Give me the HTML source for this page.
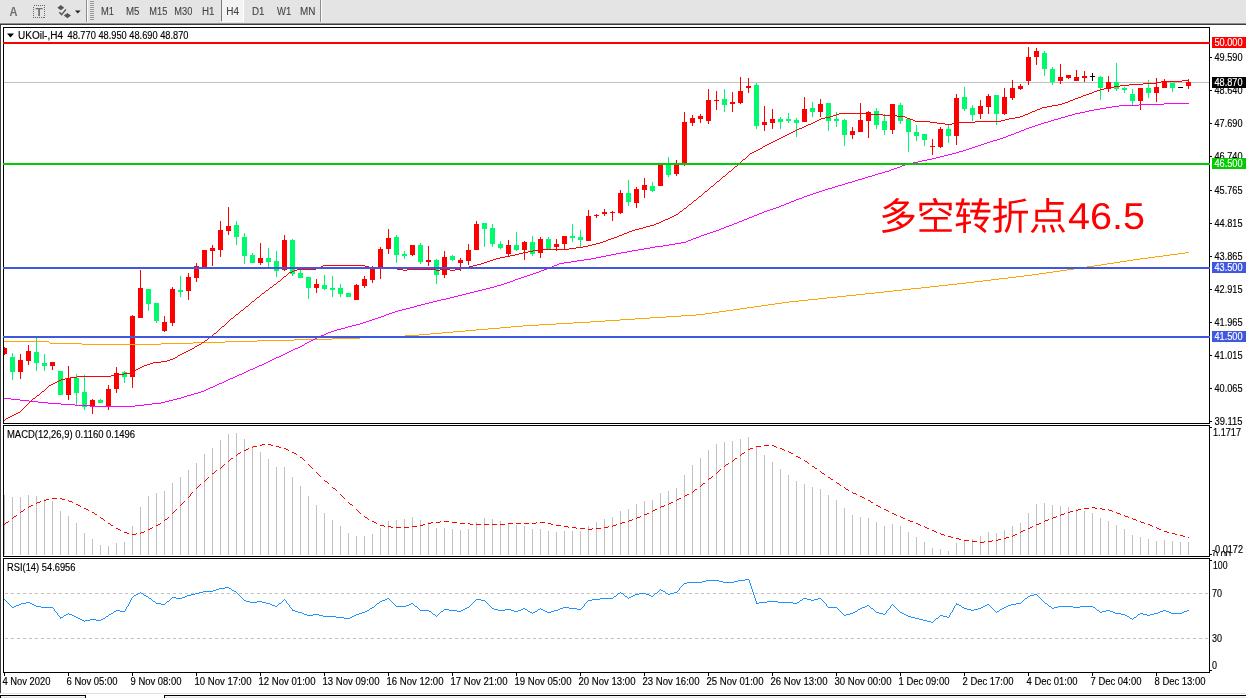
<!DOCTYPE html>
<html><head><meta charset="utf-8"><title>UKOil H4</title>
<style>html,body{margin:0;padding:0;background:#fff;overflow:hidden}svg{display:block}</style></head>
<body>
<svg width="1246" height="698" viewBox="0 0 1246 698" font-family="&quot;Liberation Sans&quot;, &quot;Noto Sans CJK SC&quot;, sans-serif" shape-rendering="crispEdges">
<rect x="0" y="0" width="1246" height="698" fill="#fff"/>
<rect x="0" y="0" width="1246" height="22" fill="#e4e4e4"/>
<rect x="0" y="22" width="1246" height="1" fill="#e7e7e7"/>
<rect x="0" y="23" width="1246" height="1" fill="#8e8e8e"/>
<rect x="0" y="24" width="1246" height="1" fill="#3c3c3c"/>
<rect x="86" y="0" width="1" height="22" fill="#8c8c8c"/>
<rect x="87" y="0" width="1" height="22" fill="#fbfbfb"/>
<rect x="90" y="1" width="4" height="1" fill="#9a9a9a"/>
<rect x="90" y="3" width="4" height="1" fill="#9a9a9a"/>
<rect x="90" y="5" width="4" height="1" fill="#9a9a9a"/>
<rect x="90" y="7" width="4" height="1" fill="#9a9a9a"/>
<rect x="90" y="9" width="4" height="1" fill="#9a9a9a"/>
<rect x="90" y="11" width="4" height="1" fill="#9a9a9a"/>
<rect x="90" y="13" width="4" height="1" fill="#9a9a9a"/>
<rect x="90" y="15" width="4" height="1" fill="#9a9a9a"/>
<rect x="90" y="17" width="4" height="1" fill="#9a9a9a"/>
<rect x="90" y="19" width="4" height="1" fill="#9a9a9a"/>
<rect x="320" y="0" width="1" height="22" fill="#8c8c8c"/>
<rect x="321" y="0" width="1" height="22" fill="#fbfbfb"/>
<rect x="221" y="0" width="23" height="21" fill="#f3f3f3"/>
<rect x="221" y="0" width="1" height="21" fill="#7a7a7a"/>
<rect x="222" y="21" width="22" height="1" fill="#fdfdfd"/>
<rect x="243" y="0" width="1" height="21" fill="#fdfdfd"/>
<text x="101" y="15" fill="#444" font-size="10" textLength="13" lengthAdjust="spacingAndGlyphs" stroke="#444" stroke-width="0.1">M1</text>
<text x="126" y="15" fill="#444" font-size="10" textLength="13.5" lengthAdjust="spacingAndGlyphs" stroke="#444" stroke-width="0.1">M5</text>
<text x="149.3" y="15" fill="#444" font-size="10" textLength="18" lengthAdjust="spacingAndGlyphs" stroke="#444" stroke-width="0.1">M15</text>
<text x="174.3" y="15" fill="#444" font-size="10" textLength="18" lengthAdjust="spacingAndGlyphs" stroke="#444" stroke-width="0.1">M30</text>
<text x="202" y="15" fill="#444" font-size="10" textLength="12.5" lengthAdjust="spacingAndGlyphs" stroke="#444" stroke-width="0.1">H1</text>
<text x="226.3" y="15" fill="#444" font-size="10" textLength="12.8" lengthAdjust="spacingAndGlyphs" stroke="#444" stroke-width="0.1">H4</text>
<text x="252" y="15" fill="#444" font-size="10" textLength="12.5" lengthAdjust="spacingAndGlyphs" stroke="#444" stroke-width="0.1">D1</text>
<text x="277" y="15" fill="#444" font-size="10" textLength="14.2" lengthAdjust="spacingAndGlyphs" stroke="#444" stroke-width="0.1">W1</text>
<text x="300" y="15" fill="#444" font-size="10" textLength="15.4" lengthAdjust="spacingAndGlyphs" stroke="#444" stroke-width="0.1">MN</text>
<text x="9.6" y="16" font-size="12.5" font-weight="bold" fill="#707070" textLength="8" lengthAdjust="spacingAndGlyphs" shape-rendering="auto">A</text>
<rect x="33.5" y="5.5" width="11" height="12" fill="none" stroke="#6a6a6a" stroke-width="1" stroke-dasharray="1 1"/>
<text x="35.4" y="16" font-size="11" font-weight="bold" fill="#707070" textLength="7.2" lengthAdjust="spacingAndGlyphs" shape-rendering="auto">T</text>
<g fill="#555" shape-rendering="auto"><path d="M57.4 7.8 L60.8 5 L64.2 7.8 L60.8 10.2 Z"/><path d="M63.8 15.6 L67.4 13 L71 15.6 L67.4 18.2 Z"/><path d="M59.3 12.3 L61.6 14.6 L66 9.4" fill="none" stroke="#555" stroke-width="1.4"/></g>
<path d="M75 10.5 L80.6 10.5 L77.8 13.5 Z" fill="#222" shape-rendering="auto"/>
<rect x="0" y="25" width="1" height="668" fill="#404040"/>
<rect x="0" y="693" width="1246" height="1" fill="#e2e2e2"/>
<rect x="0" y="695" width="86" height="1" fill="#000"/>
<rect x="85" y="695" width="1" height="3" fill="#000"/>
<rect x="1" y="696" width="84" height="1" fill="#f6f6f6"/>
<rect x="1" y="697" width="84" height="1" fill="#e6e6e6"/>
<rect x="0" y="695" width="1" height="3" fill="#000"/>
<rect x="164" y="695" width="1082" height="1" fill="#000"/>
<rect x="164" y="695" width="1" height="3" fill="#000"/>
<rect x="165" y="696" width="1081" height="1" fill="#f6f6f6"/>
<rect x="165" y="697" width="1081" height="1" fill="#e6e6e6"/>
<rect x="3" y="27" width="1" height="397" fill="#000"/>
<rect x="3" y="425" width="1" height="132" fill="#000"/>
<rect x="3" y="558" width="1" height="115" fill="#000"/>
<rect x="1209" y="27" width="1" height="397" fill="#000"/>
<rect x="1209" y="425" width="1" height="132" fill="#000"/>
<rect x="1209" y="558" width="1" height="115" fill="#000"/>
<rect x="3" y="27" width="1207" height="1" fill="#000"/>
<rect x="3" y="423" width="1207" height="1" fill="#000"/>
<rect x="3" y="425" width="1207" height="1" fill="#000"/>
<rect x="3" y="556" width="1207" height="1" fill="#000"/>
<rect x="3" y="558" width="1207" height="1" fill="#000"/>
<rect x="3" y="672" width="1207" height="1" fill="#000"/>
<rect x="4" y="82" width="1205" height="1" fill="#c0c0c0"/>
<rect x="4" y="347" width="1" height="8" fill="#ff0000"/>
<rect x="4" y="348" width="3" height="6" fill="#ff0000"/>
<rect x="12" y="353" width="1" height="27" fill="#00fa6e"/>
<rect x="10" y="357" width="5" height="15" fill="#00fa6e"/>
<rect x="20" y="354" width="1" height="25" fill="#ff0000"/>
<rect x="18" y="360" width="5" height="12" fill="#ff0000"/>
<rect x="28" y="345" width="1" height="20" fill="#ff0000"/>
<rect x="26" y="351" width="5" height="10" fill="#ff0000"/>
<rect x="36" y="338" width="1" height="33" fill="#00fa6e"/>
<rect x="34" y="352" width="5" height="11" fill="#00fa6e"/>
<rect x="44" y="354" width="1" height="17" fill="#00fa6e"/>
<rect x="42" y="363" width="5" height="3" fill="#00fa6e"/>
<rect x="52" y="362" width="1" height="8" fill="#ff0000"/>
<rect x="50" y="362" width="5" height="4" fill="#ff0000"/>
<rect x="60" y="371" width="1" height="24" fill="#00fa6e"/>
<rect x="58" y="371" width="5" height="24" fill="#00fa6e"/>
<rect x="68" y="366" width="1" height="34" fill="#ff0000"/>
<rect x="66" y="378" width="5" height="17" fill="#ff0000"/>
<rect x="76" y="374" width="1" height="32" fill="#00fa6e"/>
<rect x="74" y="378" width="5" height="15" fill="#00fa6e"/>
<rect x="84" y="375" width="1" height="35" fill="#00fa6e"/>
<rect x="82" y="392" width="5" height="15" fill="#00fa6e"/>
<rect x="92" y="399" width="1" height="15" fill="#ff0000"/>
<rect x="90" y="400" width="5" height="7" fill="#ff0000"/>
<rect x="100" y="399" width="1" height="4" fill="#00fa6e"/>
<rect x="98" y="400" width="5" height="3" fill="#00fa6e"/>
<rect x="108" y="385" width="1" height="25" fill="#ff0000"/>
<rect x="106" y="389" width="5" height="17" fill="#ff0000"/>
<rect x="116" y="367" width="1" height="26" fill="#ff0000"/>
<rect x="114" y="373" width="5" height="16" fill="#ff0000"/>
<rect x="124" y="371" width="1" height="12" fill="#00fa6e"/>
<rect x="122" y="372" width="5" height="5" fill="#00fa6e"/>
<rect x="132" y="315" width="1" height="73" fill="#ff0000"/>
<rect x="130" y="316" width="5" height="61" fill="#ff0000"/>
<rect x="140" y="270" width="1" height="48" fill="#ff0000"/>
<rect x="138" y="288" width="5" height="30" fill="#ff0000"/>
<rect x="148" y="289" width="1" height="22" fill="#00fa6e"/>
<rect x="146" y="289" width="5" height="15" fill="#00fa6e"/>
<rect x="156" y="303" width="1" height="20" fill="#00fa6e"/>
<rect x="154" y="303" width="5" height="18" fill="#00fa6e"/>
<rect x="164" y="316" width="1" height="16" fill="#ff0000"/>
<rect x="162" y="322" width="5" height="9" fill="#ff0000"/>
<rect x="172" y="287" width="1" height="39" fill="#ff0000"/>
<rect x="170" y="289" width="5" height="34" fill="#ff0000"/>
<rect x="180" y="276" width="1" height="21" fill="#00fa6e"/>
<rect x="178" y="290" width="5" height="2" fill="#00fa6e"/>
<rect x="188" y="273" width="1" height="27" fill="#ff0000"/>
<rect x="186" y="277" width="5" height="14" fill="#ff0000"/>
<rect x="196" y="263" width="1" height="19" fill="#ff0000"/>
<rect x="194" y="266" width="5" height="12" fill="#ff0000"/>
<rect x="204" y="250" width="1" height="17" fill="#ff0000"/>
<rect x="202" y="250" width="5" height="17" fill="#ff0000"/>
<rect x="212" y="245" width="1" height="21" fill="#ff0000"/>
<rect x="210" y="248" width="5" height="3" fill="#ff0000"/>
<rect x="220" y="221" width="1" height="36" fill="#ff0000"/>
<rect x="218" y="230" width="5" height="20" fill="#ff0000"/>
<rect x="228" y="207" width="1" height="28" fill="#ff0000"/>
<rect x="226" y="226" width="5" height="5" fill="#ff0000"/>
<rect x="236" y="221" width="1" height="24" fill="#00fa6e"/>
<rect x="234" y="225" width="5" height="12" fill="#00fa6e"/>
<rect x="244" y="233" width="1" height="31" fill="#00fa6e"/>
<rect x="242" y="237" width="5" height="19" fill="#00fa6e"/>
<rect x="252" y="253" width="1" height="10" fill="#00fa6e"/>
<rect x="250" y="255" width="5" height="8" fill="#00fa6e"/>
<rect x="260" y="243" width="1" height="22" fill="#ff0000"/>
<rect x="258" y="258" width="5" height="5" fill="#ff0000"/>
<rect x="268" y="248" width="1" height="19" fill="#00fa6e"/>
<rect x="266" y="258" width="5" height="4" fill="#00fa6e"/>
<rect x="276" y="251" width="1" height="26" fill="#00fa6e"/>
<rect x="274" y="261" width="5" height="10" fill="#00fa6e"/>
<rect x="284" y="235" width="1" height="36" fill="#ff0000"/>
<rect x="282" y="240" width="5" height="30" fill="#ff0000"/>
<rect x="292" y="239" width="1" height="37" fill="#00fa6e"/>
<rect x="290" y="240" width="5" height="34" fill="#00fa6e"/>
<rect x="300" y="270" width="1" height="8" fill="#00fa6e"/>
<rect x="298" y="273" width="5" height="5" fill="#00fa6e"/>
<rect x="308" y="277" width="1" height="22" fill="#00fa6e"/>
<rect x="306" y="277" width="5" height="11" fill="#00fa6e"/>
<rect x="316" y="279" width="1" height="14" fill="#ff0000"/>
<rect x="314" y="284" width="5" height="4" fill="#ff0000"/>
<rect x="324" y="275" width="1" height="15" fill="#00fa6e"/>
<rect x="322" y="285" width="5" height="4" fill="#00fa6e"/>
<rect x="332" y="276" width="1" height="21" fill="#00fa6e"/>
<rect x="330" y="288" width="5" height="2" fill="#00fa6e"/>
<rect x="340" y="284" width="1" height="13" fill="#00fa6e"/>
<rect x="338" y="288" width="5" height="6" fill="#00fa6e"/>
<rect x="348" y="293" width="1" height="4" fill="#00fa6e"/>
<rect x="346" y="293" width="5" height="4" fill="#00fa6e"/>
<rect x="356" y="284" width="1" height="16" fill="#ff0000"/>
<rect x="354" y="285" width="5" height="15" fill="#ff0000"/>
<rect x="364" y="276" width="1" height="12" fill="#ff0000"/>
<rect x="362" y="279" width="5" height="7" fill="#ff0000"/>
<rect x="372" y="266" width="1" height="17" fill="#ff0000"/>
<rect x="370" y="267" width="5" height="13" fill="#ff0000"/>
<rect x="380" y="247" width="1" height="32" fill="#ff0000"/>
<rect x="378" y="249" width="5" height="18" fill="#ff0000"/>
<rect x="388" y="229" width="1" height="25" fill="#ff0000"/>
<rect x="386" y="238" width="5" height="11" fill="#ff0000"/>
<rect x="396" y="235" width="1" height="28" fill="#00fa6e"/>
<rect x="394" y="237" width="5" height="18" fill="#00fa6e"/>
<rect x="404" y="251" width="1" height="8" fill="#00fa6e"/>
<rect x="402" y="254" width="5" height="2" fill="#00fa6e"/>
<rect x="412" y="245" width="1" height="11" fill="#ff0000"/>
<rect x="410" y="245" width="5" height="10" fill="#ff0000"/>
<rect x="420" y="243" width="1" height="21" fill="#00fa6e"/>
<rect x="418" y="245" width="5" height="17" fill="#00fa6e"/>
<rect x="428" y="246" width="1" height="20" fill="#ff0000"/>
<rect x="426" y="260" width="5" height="2" fill="#ff0000"/>
<rect x="436" y="259" width="1" height="25" fill="#00fa6e"/>
<rect x="434" y="260" width="5" height="15" fill="#00fa6e"/>
<rect x="444" y="251" width="1" height="27" fill="#ff0000"/>
<rect x="442" y="257" width="5" height="18" fill="#ff0000"/>
<rect x="452" y="255" width="1" height="6" fill="#00fa6e"/>
<rect x="450" y="256" width="5" height="4" fill="#00fa6e"/>
<rect x="460" y="258" width="1" height="13" fill="#ff0000"/>
<rect x="458" y="260" width="5" height="3" fill="#ff0000"/>
<rect x="468" y="244" width="1" height="21" fill="#ff0000"/>
<rect x="466" y="250" width="5" height="11" fill="#ff0000"/>
<rect x="476" y="221" width="1" height="29" fill="#ff0000"/>
<rect x="474" y="224" width="5" height="26" fill="#ff0000"/>
<rect x="484" y="223" width="1" height="24" fill="#00fa6e"/>
<rect x="482" y="223" width="5" height="6" fill="#00fa6e"/>
<rect x="492" y="224" width="1" height="23" fill="#00fa6e"/>
<rect x="490" y="228" width="5" height="16" fill="#00fa6e"/>
<rect x="500" y="241" width="1" height="8" fill="#00fa6e"/>
<rect x="498" y="244" width="5" height="4" fill="#00fa6e"/>
<rect x="508" y="240" width="1" height="16" fill="#ff0000"/>
<rect x="506" y="245" width="5" height="9" fill="#ff0000"/>
<rect x="516" y="232" width="1" height="19" fill="#00fa6e"/>
<rect x="514" y="245" width="5" height="5" fill="#00fa6e"/>
<rect x="524" y="241" width="1" height="19" fill="#ff0000"/>
<rect x="522" y="242" width="5" height="8" fill="#ff0000"/>
<rect x="532" y="236" width="1" height="20" fill="#00fa6e"/>
<rect x="530" y="242" width="5" height="12" fill="#00fa6e"/>
<rect x="540" y="237" width="1" height="21" fill="#ff0000"/>
<rect x="538" y="239" width="5" height="14" fill="#ff0000"/>
<rect x="548" y="237" width="1" height="12" fill="#00fa6e"/>
<rect x="546" y="239" width="5" height="10" fill="#00fa6e"/>
<rect x="556" y="239" width="1" height="12" fill="#ff0000"/>
<rect x="554" y="244" width="5" height="3" fill="#ff0000"/>
<rect x="564" y="236" width="1" height="13" fill="#ff0000"/>
<rect x="562" y="236" width="5" height="8" fill="#ff0000"/>
<rect x="572" y="224" width="1" height="18" fill="#00fa6e"/>
<rect x="570" y="236" width="5" height="2" fill="#00fa6e"/>
<rect x="580" y="230" width="1" height="17" fill="#00fa6e"/>
<rect x="578" y="237" width="5" height="3" fill="#00fa6e"/>
<rect x="588" y="210" width="1" height="31" fill="#ff0000"/>
<rect x="586" y="216" width="5" height="25" fill="#ff0000"/>
<rect x="596" y="214" width="1" height="4" fill="#ff0000"/>
<rect x="594" y="215" width="5" height="1" fill="#ff0000"/>
<rect x="604" y="209" width="1" height="7" fill="#ff0000"/>
<rect x="602" y="212" width="5" height="2" fill="#ff0000"/>
<rect x="612" y="211" width="1" height="10" fill="#ff0000"/>
<rect x="610" y="212" width="5" height="1" fill="#ff0000"/>
<rect x="620" y="190" width="1" height="24" fill="#ff0000"/>
<rect x="618" y="193" width="5" height="20" fill="#ff0000"/>
<rect x="628" y="180" width="1" height="26" fill="#00fa6e"/>
<rect x="626" y="193" width="5" height="9" fill="#00fa6e"/>
<rect x="636" y="187" width="1" height="21" fill="#ff0000"/>
<rect x="634" y="189" width="5" height="14" fill="#ff0000"/>
<rect x="644" y="178" width="1" height="20" fill="#ff0000"/>
<rect x="642" y="185" width="5" height="5" fill="#ff0000"/>
<rect x="652" y="182" width="1" height="10" fill="#00fa6e"/>
<rect x="650" y="186" width="5" height="5" fill="#00fa6e"/>
<rect x="660" y="163" width="1" height="23" fill="#ff0000"/>
<rect x="658" y="163" width="5" height="23" fill="#ff0000"/>
<rect x="668" y="157" width="1" height="20" fill="#00fa6e"/>
<rect x="666" y="164" width="5" height="11" fill="#00fa6e"/>
<rect x="676" y="160" width="1" height="16" fill="#ff0000"/>
<rect x="674" y="164" width="5" height="10" fill="#ff0000"/>
<rect x="684" y="112" width="1" height="54" fill="#ff0000"/>
<rect x="682" y="122" width="5" height="41" fill="#ff0000"/>
<rect x="692" y="115" width="1" height="11" fill="#ff0000"/>
<rect x="690" y="118" width="5" height="5" fill="#ff0000"/>
<rect x="700" y="114" width="1" height="9" fill="#ff0000"/>
<rect x="698" y="116" width="5" height="3" fill="#ff0000"/>
<rect x="708" y="89" width="1" height="35" fill="#ff0000"/>
<rect x="706" y="100" width="5" height="21" fill="#ff0000"/>
<rect x="716" y="91" width="1" height="19" fill="#ff0000"/>
<rect x="714" y="100" width="5" height="1" fill="#ff0000"/>
<rect x="724" y="89" width="1" height="23" fill="#00fa6e"/>
<rect x="722" y="99" width="5" height="6" fill="#00fa6e"/>
<rect x="732" y="92" width="1" height="20" fill="#ff0000"/>
<rect x="730" y="102" width="5" height="2" fill="#ff0000"/>
<rect x="740" y="77" width="1" height="27" fill="#ff0000"/>
<rect x="738" y="91" width="5" height="12" fill="#ff0000"/>
<rect x="748" y="78" width="1" height="15" fill="#ff0000"/>
<rect x="746" y="86" width="5" height="2" fill="#ff0000"/>
<rect x="756" y="83" width="1" height="46" fill="#00fa6e"/>
<rect x="754" y="85" width="5" height="41" fill="#00fa6e"/>
<rect x="764" y="106" width="1" height="25" fill="#ff0000"/>
<rect x="762" y="122" width="5" height="3" fill="#ff0000"/>
<rect x="772" y="109" width="1" height="20" fill="#ff0000"/>
<rect x="770" y="119" width="5" height="4" fill="#ff0000"/>
<rect x="780" y="117" width="1" height="12" fill="#00fa6e"/>
<rect x="778" y="119" width="5" height="3" fill="#00fa6e"/>
<rect x="788" y="113" width="1" height="10" fill="#00fa6e"/>
<rect x="786" y="119" width="5" height="2" fill="#00fa6e"/>
<rect x="796" y="118" width="1" height="19" fill="#00fa6e"/>
<rect x="794" y="120" width="5" height="3" fill="#00fa6e"/>
<rect x="804" y="97" width="1" height="25" fill="#ff0000"/>
<rect x="802" y="109" width="5" height="13" fill="#ff0000"/>
<rect x="812" y="102" width="1" height="15" fill="#00fa6e"/>
<rect x="810" y="108" width="5" height="4" fill="#00fa6e"/>
<rect x="820" y="99" width="1" height="18" fill="#ff0000"/>
<rect x="818" y="104" width="5" height="8" fill="#ff0000"/>
<rect x="828" y="103" width="1" height="28" fill="#00fa6e"/>
<rect x="826" y="103" width="5" height="18" fill="#00fa6e"/>
<rect x="836" y="112" width="1" height="15" fill="#00fa6e"/>
<rect x="834" y="119" width="5" height="2" fill="#00fa6e"/>
<rect x="844" y="119" width="1" height="27" fill="#00fa6e"/>
<rect x="842" y="120" width="5" height="15" fill="#00fa6e"/>
<rect x="852" y="127" width="1" height="12" fill="#ff0000"/>
<rect x="850" y="131" width="5" height="4" fill="#ff0000"/>
<rect x="860" y="103" width="1" height="29" fill="#ff0000"/>
<rect x="858" y="120" width="5" height="12" fill="#ff0000"/>
<rect x="868" y="111" width="1" height="27" fill="#ff0000"/>
<rect x="866" y="112" width="5" height="9" fill="#ff0000"/>
<rect x="876" y="108" width="1" height="21" fill="#00fa6e"/>
<rect x="874" y="111" width="5" height="14" fill="#00fa6e"/>
<rect x="884" y="114" width="1" height="21" fill="#00fa6e"/>
<rect x="882" y="121" width="5" height="9" fill="#00fa6e"/>
<rect x="892" y="104" width="1" height="30" fill="#ff0000"/>
<rect x="890" y="104" width="5" height="26" fill="#ff0000"/>
<rect x="900" y="103" width="1" height="21" fill="#00fa6e"/>
<rect x="898" y="105" width="5" height="16" fill="#00fa6e"/>
<rect x="908" y="119" width="1" height="33" fill="#00fa6e"/>
<rect x="906" y="119" width="5" height="13" fill="#00fa6e"/>
<rect x="916" y="125" width="1" height="16" fill="#00fa6e"/>
<rect x="914" y="132" width="5" height="4" fill="#00fa6e"/>
<rect x="924" y="134" width="1" height="12" fill="#00fa6e"/>
<rect x="922" y="134" width="5" height="6" fill="#00fa6e"/>
<rect x="932" y="139" width="1" height="16" fill="#ff0000"/>
<rect x="930" y="146" width="5" height="1" fill="#ff0000"/>
<rect x="940" y="127" width="1" height="21" fill="#ff0000"/>
<rect x="938" y="129" width="5" height="18" fill="#ff0000"/>
<rect x="948" y="125" width="1" height="18" fill="#00fa6e"/>
<rect x="946" y="129" width="5" height="7" fill="#00fa6e"/>
<rect x="956" y="94" width="1" height="51" fill="#ff0000"/>
<rect x="954" y="98" width="5" height="38" fill="#ff0000"/>
<rect x="964" y="87" width="1" height="24" fill="#00fa6e"/>
<rect x="962" y="97" width="5" height="12" fill="#00fa6e"/>
<rect x="972" y="105" width="1" height="16" fill="#00fa6e"/>
<rect x="970" y="108" width="5" height="7" fill="#00fa6e"/>
<rect x="980" y="100" width="1" height="19" fill="#ff0000"/>
<rect x="978" y="106" width="5" height="8" fill="#ff0000"/>
<rect x="988" y="94" width="1" height="20" fill="#ff0000"/>
<rect x="986" y="96" width="5" height="11" fill="#ff0000"/>
<rect x="996" y="95" width="1" height="30" fill="#00fa6e"/>
<rect x="994" y="95" width="5" height="19" fill="#00fa6e"/>
<rect x="1004" y="88" width="1" height="27" fill="#ff0000"/>
<rect x="1002" y="97" width="5" height="17" fill="#ff0000"/>
<rect x="1012" y="80" width="1" height="20" fill="#ff0000"/>
<rect x="1010" y="88" width="5" height="10" fill="#ff0000"/>
<rect x="1020" y="84" width="1" height="6" fill="#ff0000"/>
<rect x="1018" y="86" width="5" height="3" fill="#ff0000"/>
<rect x="1028" y="47" width="1" height="38" fill="#ff0000"/>
<rect x="1026" y="57" width="5" height="24" fill="#ff0000"/>
<rect x="1036" y="48" width="1" height="17" fill="#ff0000"/>
<rect x="1034" y="51" width="5" height="6" fill="#ff0000"/>
<rect x="1044" y="51" width="1" height="25" fill="#00fa6e"/>
<rect x="1042" y="53" width="5" height="16" fill="#00fa6e"/>
<rect x="1052" y="67" width="1" height="18" fill="#00fa6e"/>
<rect x="1050" y="69" width="5" height="13" fill="#00fa6e"/>
<rect x="1060" y="64" width="1" height="20" fill="#ff0000"/>
<rect x="1058" y="77" width="5" height="4" fill="#ff0000"/>
<rect x="1068" y="75" width="1" height="4" fill="#ff0000"/>
<rect x="1066" y="75" width="5" height="3" fill="#ff0000"/>
<rect x="1076" y="70" width="1" height="11" fill="#ff0000"/>
<rect x="1074" y="77" width="5" height="4" fill="#ff0000"/>
<rect x="1084" y="71" width="1" height="11" fill="#ff0000"/>
<rect x="1082" y="76" width="5" height="2" fill="#ff0000"/>
<rect x="1092" y="73" width="1" height="8" fill="#000"/>
<rect x="1090" y="76" width="5" height="1" fill="#000"/>
<rect x="1100" y="76" width="1" height="24" fill="#00fa6e"/>
<rect x="1098" y="77" width="5" height="11" fill="#00fa6e"/>
<rect x="1108" y="76" width="1" height="16" fill="#ff0000"/>
<rect x="1106" y="82" width="5" height="7" fill="#ff0000"/>
<rect x="1116" y="63" width="1" height="28" fill="#00fa6e"/>
<rect x="1114" y="82" width="5" height="7" fill="#00fa6e"/>
<rect x="1124" y="87" width="1" height="6" fill="#00fa6e"/>
<rect x="1122" y="88" width="5" height="2" fill="#00fa6e"/>
<rect x="1132" y="89" width="1" height="16" fill="#00fa6e"/>
<rect x="1130" y="94" width="5" height="7" fill="#00fa6e"/>
<rect x="1140" y="88" width="1" height="22" fill="#ff0000"/>
<rect x="1138" y="88" width="5" height="13" fill="#ff0000"/>
<rect x="1148" y="80" width="1" height="18" fill="#00fa6e"/>
<rect x="1146" y="88" width="5" height="5" fill="#00fa6e"/>
<rect x="1156" y="78" width="1" height="24" fill="#ff0000"/>
<rect x="1154" y="87" width="5" height="6" fill="#ff0000"/>
<rect x="1164" y="79" width="1" height="9" fill="#ff0000"/>
<rect x="1162" y="81" width="5" height="7" fill="#ff0000"/>
<rect x="1172" y="83" width="1" height="9" fill="#00fa6e"/>
<rect x="1170" y="83" width="5" height="5" fill="#00fa6e"/>
<rect x="1180" y="87" width="1" height="1" fill="#000"/>
<rect x="1178" y="87" width="5" height="1" fill="#000"/>
<rect x="1188" y="79" width="1" height="10" fill="#ff0000"/>
<rect x="1186" y="82" width="5" height="4" fill="#ff0000"/>
<path d="M4 341h45v1h-45zM49 342h1v1h-1zM50 343h32v1h-32zM82 344h79v1h-79zM161 343h32v1h-32zM193 342h32v1h-32zM225 341h32v1h-32zM257 340h37v1h-37zM294 339h38v1h-38zM332 338h28v1h-28zM360 337h22v1h-22zM382 336h23v1h-23zM405 335h14v1h-14zM419 334h11v1h-11zM430 333h12v1h-12zM442 332h11v1h-11zM453 331h12v1h-12zM465 330h11v1h-11zM476 329h12v1h-12zM488 328h12v1h-12zM500 327h11v1h-11zM511 326h12v1h-12zM523 325h16v1h-16zM539 324h17v1h-17zM556 323h17v1h-17zM573 322h17v1h-17zM590 321h15v1h-15zM605 320h15v1h-15zM620 319h15v1h-15zM635 318h15v1h-15zM650 317h16v1h-16zM666 316h15v1h-15zM681 315h15v1h-15zM696 314h9v1h-9zM705 313h7v1h-7zM712 312h7v1h-7zM719 311h7v1h-7zM726 310h7v1h-7zM733 309h7v1h-7zM740 308h7v1h-7zM747 307h7v1h-7zM754 306h7v1h-7zM761 305h7v1h-7zM768 304h7v1h-7zM775 303h7v1h-7zM782 302h7v1h-7zM789 301h10v1h-10zM799 300h9v1h-9zM808 299h10v1h-10zM818 298h9v1h-9zM827 297h10v1h-10zM837 296h9v1h-9zM846 295h10v1h-10zM856 294h9v1h-9zM865 293h10v1h-10zM875 292h9v1h-9zM884 291h9v1h-9zM893 290h9v1h-9zM902 289h9v1h-9zM911 288h10v1h-10zM921 287h9v1h-9zM930 286h9v1h-9zM939 285h9v1h-9zM948 284h9v1h-9zM957 283h9v1h-9zM966 282h8v1h-8zM974 281h9v1h-9zM983 280h8v1h-8zM991 279h8v1h-8zM999 278h9v1h-9zM1008 277h8v1h-8zM1016 276h8v1h-8zM1024 275h8v1h-8zM1032 274h7v1h-7zM1039 273h7v1h-7zM1046 272h7v1h-7zM1053 271h7v1h-7zM1060 270h7v1h-7zM1067 269h7v1h-7zM1074 268h7v1h-7zM1081 267h6v1h-6zM1087 266h7v1h-7zM1094 265h7v1h-7zM1101 264h6v1h-6zM1107 263h7v1h-7zM1114 262h6v1h-6zM1120 261h7v1h-7zM1127 260h6v1h-6zM1133 259h7v1h-7zM1140 258h8v1h-8zM1148 257h7v1h-7zM1155 256h8v1h-8zM1163 255h7v1h-7zM1170 254h8v1h-8zM1178 253h7v1h-7zM1185 252h4v1h-4z" fill="#ffa500"/>
<path d="M4 398h7v1h-7zM11 399h9v1h-9zM20 400h9v1h-9zM29 401h9v1h-9zM38 402h10v1h-10zM48 403h13v1h-13zM61 404h14v1h-14zM75 405h15v1h-15zM90 406h45v1h-45zM135 405h9v1h-9zM144 404h8v1h-8zM152 403h9v1h-9zM161 402h4v1h-4zM165 401h4v1h-4zM169 400h4v1h-4zM173 399h4v1h-4zM177 398h4v1h-4zM181 397h3v1h-3zM184 396h3v1h-3zM187 395h4v1h-4zM191 394h3v1h-3zM194 393h4v1h-4zM198 392h3v1h-3zM201 391h3v1h-3zM204 390h2v1h-2zM206 389h2v1h-2zM208 388h2v1h-2zM210 387h3v1h-3zM213 386h2v1h-2zM215 385h2v1h-2zM217 384h2v1h-2zM219 383h3v1h-3zM222 382h2v1h-2zM224 381h2v1h-2zM226 380h2v1h-2zM228 379h2v1h-2zM230 378h3v1h-3zM233 377h2v1h-2zM235 376h2v1h-2zM237 375h2v1h-2zM239 374h3v1h-3zM242 373h2v1h-2zM244 372h2v1h-2zM246 371h2v1h-2zM248 370h2v1h-2zM250 369h3v1h-3zM253 368h2v1h-2zM255 367h2v1h-2zM257 366h2v1h-2zM259 365h3v1h-3zM262 364h2v1h-2zM264 363h2v1h-2zM266 362h2v1h-2zM268 361h2v1h-2zM270 360h2v1h-2zM272 359h2v1h-2zM274 358h2v1h-2zM276 357h3v1h-3zM279 356h2v1h-2zM281 355h2v1h-2zM283 354h2v1h-2zM285 353h2v1h-2zM287 352h2v1h-2zM289 351h2v1h-2zM291 350h2v1h-2zM293 349h2v1h-2zM295 348h3v1h-3zM298 347h2v1h-2zM300 346h2v1h-2zM302 345h2v1h-2zM304 344h1v1h-1zM305 343h2v1h-2zM307 342h2v1h-2zM309 341h2v1h-2zM311 340h2v1h-2zM313 339h2v1h-2zM315 338h2v1h-2zM317 337h2v1h-2zM319 336h2v1h-2zM321 335h3v1h-3zM324 334h2v1h-2zM326 333h2v1h-2zM328 332h3v1h-3zM331 331h3v1h-3zM334 330h3v1h-3zM337 329h4v1h-4zM341 328h4v1h-4zM345 327h3v1h-3zM348 326h4v1h-4zM352 325h4v1h-4zM356 324h4v1h-4zM360 323h3v1h-3zM363 322h3v1h-3zM366 321h3v1h-3zM369 320h3v1h-3zM372 319h3v1h-3zM375 318h3v1h-3zM378 317h3v1h-3zM381 316h3v1h-3zM384 315h2v1h-2zM386 314h3v1h-3zM389 313h3v1h-3zM392 312h3v1h-3zM395 311h3v1h-3zM398 310h4v1h-4zM402 309h4v1h-4zM406 308h4v1h-4zM410 307h4v1h-4zM414 306h3v1h-3zM417 305h4v1h-4zM421 304h4v1h-4zM425 303h4v1h-4zM429 302h4v1h-4zM433 301h4v1h-4zM437 300h4v1h-4zM441 299h5v1h-5zM446 298h4v1h-4zM450 297h4v1h-4zM454 296h4v1h-4zM458 295h4v1h-4zM462 294h4v1h-4zM466 293h4v1h-4zM470 292h4v1h-4zM474 291h4v1h-4zM478 290h4v1h-4zM482 289h4v1h-4zM486 288h4v1h-4zM490 287h4v1h-4zM494 286h3v1h-3zM497 285h4v1h-4zM501 284h3v1h-3zM504 283h3v1h-3zM507 282h3v1h-3zM510 281h3v1h-3zM513 280h2v1h-2zM515 279h3v1h-3zM518 278h3v1h-3zM521 277h3v1h-3zM524 276h3v1h-3zM527 275h3v1h-3zM530 274h3v1h-3zM533 273h3v1h-3zM536 272h3v1h-3zM539 271h2v1h-2zM541 270h3v1h-3zM544 269h3v1h-3zM547 268h2v1h-2zM549 267h3v1h-3zM552 266h2v1h-2zM554 265h3v1h-3zM557 264h2v1h-2zM559 263h5v1h-5zM564 262h7v1h-7zM571 261h6v1h-6zM577 260h7v1h-7zM584 259h7v1h-7zM591 258h5v1h-5zM596 257h5v1h-5zM601 256h5v1h-5zM606 255h5v1h-5zM611 254h5v1h-5zM616 253h5v1h-5zM621 252h6v1h-6zM627 251h5v1h-5zM632 250h6v1h-6zM638 249h6v1h-6zM644 248h6v1h-6zM650 247h5v1h-5zM655 246h8v1h-8zM663 245h6v1h-6zM669 244h6v1h-6zM675 243h6v1h-6zM681 242h5v1h-5zM686 241h2v1h-2zM688 240h3v1h-3zM691 239h2v1h-2zM693 238h3v1h-3zM696 237h3v1h-3zM699 236h2v1h-2zM701 235h3v1h-3zM704 234h3v1h-3zM707 233h3v1h-3zM710 232h3v1h-3zM713 231h3v1h-3zM716 230h3v1h-3zM719 229h2v1h-2zM721 228h3v1h-3zM724 227h2v1h-2zM726 226h3v1h-3zM729 225h3v1h-3zM732 224h2v1h-2zM734 223h3v1h-3zM737 222h2v1h-2zM739 221h3v1h-3zM742 220h2v1h-2zM744 219h3v1h-3zM747 218h2v1h-2zM749 217h3v1h-3zM752 216h2v1h-2zM754 215h3v1h-3zM757 214h2v1h-2zM759 213h3v1h-3zM762 212h2v1h-2zM764 211h3v1h-3zM767 210h3v1h-3zM770 209h3v1h-3zM773 208h3v1h-3zM776 207h3v1h-3zM779 206h2v1h-2zM781 205h3v1h-3zM784 204h2v1h-2zM786 203h3v1h-3zM789 202h2v1h-2zM791 201h3v1h-3zM794 200h2v1h-2zM796 199h3v1h-3zM799 198h3v1h-3zM802 197h2v1h-2zM804 196h3v1h-3zM807 195h3v1h-3zM810 194h3v1h-3zM813 193h3v1h-3zM816 192h3v1h-3zM819 191h3v1h-3zM822 190h3v1h-3zM825 189h3v1h-3zM828 188h4v1h-4zM832 187h3v1h-3zM835 186h3v1h-3zM838 185h4v1h-4zM842 184h3v1h-3zM845 183h3v1h-3zM848 182h4v1h-4zM852 181h3v1h-3zM855 180h3v1h-3zM858 179h4v1h-4zM862 178h3v1h-3zM865 177h3v1h-3zM868 176h4v1h-4zM872 175h3v1h-3zM875 174h3v1h-3zM878 173h4v1h-4zM882 172h3v1h-3zM885 171h4v1h-4zM889 170h2v1h-2zM891 169h3v1h-3zM894 168h3v1h-3zM897 167h3v1h-3zM900 166h2v1h-2zM902 165h3v1h-3zM905 164h4v1h-4zM909 163h4v1h-4zM913 162h5v1h-5zM918 161h4v1h-4zM922 160h5v1h-5zM927 159h5v1h-5zM932 158h4v1h-4zM936 157h4v1h-4zM940 156h4v1h-4zM944 155h4v1h-4zM948 154h4v1h-4zM952 153h4v1h-4zM956 152h3v1h-3zM959 151h4v1h-4zM963 150h3v1h-3zM966 149h3v1h-3zM969 148h3v1h-3zM972 147h3v1h-3zM975 146h3v1h-3zM978 145h3v1h-3zM981 144h3v1h-3zM984 143h3v1h-3zM987 142h3v1h-3zM990 141h3v1h-3zM993 140h4v1h-4zM997 139h3v1h-3zM1000 138h3v1h-3zM1003 137h3v1h-3zM1006 136h2v1h-2zM1008 135h3v1h-3zM1011 134h3v1h-3zM1014 133h2v1h-2zM1016 132h3v1h-3zM1019 131h2v1h-2zM1021 130h3v1h-3zM1024 129h2v1h-2zM1026 128h3v1h-3zM1029 127h3v1h-3zM1032 126h3v1h-3zM1035 125h3v1h-3zM1038 124h3v1h-3zM1041 123h3v1h-3zM1044 122h4v1h-4zM1048 121h3v1h-3zM1051 120h3v1h-3zM1054 119h4v1h-4zM1058 118h3v1h-3zM1061 117h4v1h-4zM1065 116h3v1h-3zM1068 115h4v1h-4zM1072 114h3v1h-3zM1075 113h5v1h-5zM1080 112h5v1h-5zM1085 111h4v1h-4zM1089 110h5v1h-5zM1094 109h6v1h-6zM1100 108h6v1h-6zM1106 107h6v1h-6zM1112 106h7v1h-7zM1119 105h20v1h-20zM1139 104h25v1h-25zM1164 103h25v1h-25z" fill="#ff00ff"/>
<path d="M4 420h1v1h-1zM5 419h1v1h-1zM6 418h2v1h-2zM8 417h2v1h-2zM10 416h2v1h-2zM12 415h2v1h-2zM14 414h2v1h-2zM16 413h2v1h-2zM18 412h2v1h-2zM20 411h1v1h-1zM21 410h1v1h-1zM22 409h1v1h-1zM23 408h1v1h-1zM24 407h1v1h-1zM25 406h1v1h-1zM26 405h1v1h-1zM27 404h1v1h-1zM28 403h1v1h-1zM29 402h1v1h-1zM30 401h1v1h-1zM31 400h1v1h-1zM32 399h1v1h-1zM33 398h2v1h-2zM35 397h1v1h-1zM36 396h1v1h-1zM37 395h2v1h-2zM39 394h1v1h-1zM40 393h1v1h-1zM41 392h1v1h-1zM42 391h2v1h-2zM44 390h1v1h-1zM45 389h1v1h-1zM46 388h1v1h-1zM47 387h1v1h-1zM48 386h1v1h-1zM49 385h2v1h-2zM51 384h2v1h-2zM53 383h2v1h-2zM55 382h2v1h-2zM57 381h2v1h-2zM59 380h2v1h-2zM61 379h4v1h-4zM65 378h5v1h-5zM70 377h7v1h-7zM77 376h34v1h-34zM111 375h6v1h-6zM117 374h7v1h-7zM124 373h9v1h-9zM133 372h1v1h-1zM134 371h1v1h-1zM135 370h1v1h-1zM136 369h2v1h-2zM138 368h2v1h-2zM140 367h2v1h-2zM142 366h2v1h-2zM144 365h3v1h-3zM147 364h3v1h-3zM150 363h3v1h-3zM153 362h8v1h-8zM161 361h6v1h-6zM167 360h3v1h-3zM170 359h3v1h-3zM173 358h2v1h-2zM175 357h2v1h-2zM177 356h1v1h-1zM178 355h2v1h-2zM180 354h2v1h-2zM182 353h2v1h-2zM184 352h2v1h-2zM186 351h2v1h-2zM188 350h2v1h-2zM190 349h2v1h-2zM192 348h2v1h-2zM194 347h1v1h-1zM195 346h2v1h-2zM197 345h2v1h-2zM199 344h2v1h-2zM201 343h1v1h-1zM202 342h2v1h-2zM204 341h1v1h-1zM205 340h2v1h-2zM207 339h1v1h-1zM208 338h1v1h-1zM209 337h2v1h-2zM211 336h1v1h-1zM212 335h1v1h-1zM213 334h1v1h-1zM214 333h2v1h-2zM216 332h1v1h-1zM217 331h1v1h-1zM218 330h1v1h-1zM219 329h1v1h-1zM220 328h1v1h-1zM221 327h1v1h-1zM222 326h2v1h-2zM224 325h1v1h-1zM225 324h1v1h-1zM226 323h1v1h-1zM227 322h1v1h-1zM228 321h1v1h-1zM229 320h1v1h-1zM230 319h1v1h-1zM231 318h2v1h-2zM233 317h1v1h-1zM234 316h1v1h-1zM235 315h1v1h-1zM236 314h2v1h-2zM238 313h1v1h-1zM239 312h1v1h-1zM240 311h1v1h-1zM241 310h2v1h-2zM243 309h1v1h-1zM244 308h1v1h-1zM245 307h1v1h-1zM246 306h2v1h-2zM248 305h1v1h-1zM249 304h1v1h-1zM250 303h1v1h-1zM251 302h1v1h-1zM252 301h2v1h-2zM254 300h1v1h-1zM255 299h1v1h-1zM256 298h1v1h-1zM257 297h2v1h-2zM259 296h1v1h-1zM260 295h1v1h-1zM261 294h1v1h-1zM262 293h2v1h-2zM264 292h1v1h-1zM265 291h1v1h-1zM266 290h2v1h-2zM268 289h1v1h-1zM269 288h1v1h-1zM270 287h2v1h-2zM272 286h1v1h-1zM273 285h1v1h-1zM274 284h2v1h-2zM276 283h1v1h-1zM277 282h1v1h-1zM278 281h2v1h-2zM280 280h1v1h-1zM281 279h1v1h-1zM282 278h1v1h-1zM283 277h1v1h-1zM284 276h2v1h-2zM286 275h1v1h-1zM287 274h1v1h-1zM288 273h1v1h-1zM289 272h3v1h-3zM292 271h2v1h-2zM294 270h3v1h-3zM297 269h19v1h-19zM316 268h2v1h-2zM318 267h3v1h-3zM321 266h2v1h-2zM323 265h42v1h-42zM365 266h4v1h-4zM369 267h24v1h-24zM393 268h4v1h-4zM397 269h6v1h-6zM403 270h4v1h-4zM407 269h29v1h-29zM436 270h4v1h-4zM440 269h10v1h-10zM450 270h5v1h-5zM455 269h6v1h-6zM461 268h5v1h-5zM466 267h3v1h-3zM469 266h4v1h-4zM473 265h4v1h-4zM477 264h4v1h-4zM481 263h3v1h-3zM484 262h3v1h-3zM487 261h3v1h-3zM490 260h3v1h-3zM493 259h3v1h-3zM496 258h4v1h-4zM500 257h5v1h-5zM505 256h5v1h-5zM510 255h5v1h-5zM515 254h4v1h-4zM519 253h4v1h-4zM523 252h5v1h-5zM528 251h5v1h-5zM533 250h6v1h-6zM539 249h30v1h-30zM569 248h7v1h-7zM576 247h7v1h-7zM583 246h5v1h-5zM588 245h4v1h-4zM592 244h4v1h-4zM596 243h4v1h-4zM600 242h3v1h-3zM603 241h3v1h-3zM606 240h2v1h-2zM608 239h3v1h-3zM611 238h3v1h-3zM614 237h3v1h-3zM617 236h2v1h-2zM619 235h3v1h-3zM622 234h2v1h-2zM624 233h3v1h-3zM627 232h2v1h-2zM629 231h3v1h-3zM632 230h3v1h-3zM635 229h4v1h-4zM639 228h4v1h-4zM643 227h3v1h-3zM646 226h4v1h-4zM650 225h4v1h-4zM654 224h2v1h-2zM656 223h3v1h-3zM659 222h2v1h-2zM661 221h2v1h-2zM663 220h2v1h-2zM665 219h3v1h-3zM668 218h2v1h-2zM670 217h2v1h-2zM672 216h2v1h-2zM674 215h2v1h-2zM676 214h2v1h-2zM678 213h1v1h-1zM679 212h1v1h-1zM680 211h2v1h-2zM682 210h1v1h-1zM683 209h1v1h-1zM684 208h2v1h-2zM686 207h1v1h-1zM687 206h1v1h-1zM688 205h1v1h-1zM689 204h2v1h-2zM691 203h1v1h-1zM692 202h1v1h-1zM693 201h1v1h-1zM694 200h2v1h-2zM696 199h1v1h-1zM697 198h1v1h-1zM698 197h1v1h-1zM699 196h2v1h-2zM701 195h1v1h-1zM702 194h1v1h-1zM703 193h1v1h-1zM704 192h1v1h-1zM705 191h2v1h-2zM707 190h1v1h-1zM708 189h1v1h-1zM709 188h1v1h-1zM710 187h1v1h-1zM711 186h2v1h-2zM713 185h1v1h-1zM714 184h1v1h-1zM715 183h1v1h-1zM716 182h1v1h-1zM717 181h2v1h-2zM719 180h1v1h-1zM720 179h1v1h-1zM721 178h1v1h-1zM722 177h1v1h-1zM723 176h2v1h-2zM725 175h1v1h-1zM726 174h1v1h-1zM727 173h1v1h-1zM728 172h1v1h-1zM729 171h2v1h-2zM731 170h1v1h-1zM732 169h1v1h-1zM733 168h1v1h-1zM734 167h1v1h-1zM735 166h2v1h-2zM737 165h1v1h-1zM738 164h1v1h-1zM739 163h1v1h-1zM740 162h1v1h-1zM741 161h1v1h-1zM742 160h1v1h-1zM743 159h2v1h-2zM745 158h1v1h-1zM746 157h1v1h-1zM747 156h1v1h-1zM748 155h1v1h-1zM749 154h1v1h-1zM750 153h2v1h-2zM752 152h2v1h-2zM754 151h2v1h-2zM756 150h2v1h-2zM758 149h2v1h-2zM760 148h2v1h-2zM762 147h1v1h-1zM763 146h2v1h-2zM765 145h2v1h-2zM767 144h2v1h-2zM769 143h2v1h-2zM771 142h2v1h-2zM773 141h2v1h-2zM775 140h2v1h-2zM777 139h2v1h-2zM779 138h2v1h-2zM781 137h2v1h-2zM783 136h2v1h-2zM785 135h2v1h-2zM787 134h2v1h-2zM789 133h2v1h-2zM791 132h2v1h-2zM793 131h2v1h-2zM795 130h2v1h-2zM797 129h2v1h-2zM799 128h3v1h-3zM802 127h2v1h-2zM804 126h2v1h-2zM806 125h2v1h-2zM808 124h3v1h-3zM811 123h2v1h-2zM813 122h2v1h-2zM815 121h2v1h-2zM817 120h2v1h-2zM819 119h2v1h-2zM821 118h4v1h-4zM825 117h5v1h-5zM830 116h3v1h-3zM833 115h3v1h-3zM836 114h3v1h-3zM839 113h32v1h-32zM871 114h12v1h-12zM883 115h14v1h-14zM897 116h8v1h-8zM905 117h2v1h-2zM907 118h3v1h-3zM910 119h3v1h-3zM913 120h2v1h-2zM915 121h15v1h-15zM930 122h7v1h-7zM937 123h8v1h-8zM945 124h7v1h-7zM952 123h5v1h-5zM957 122h18v1h-18zM975 121h26v1h-26zM1001 120h4v1h-4zM1005 119h4v1h-4zM1009 118h6v1h-6zM1015 117h5v1h-5zM1020 116h3v1h-3zM1023 115h2v1h-2zM1025 114h3v1h-3zM1028 113h2v1h-2zM1030 112h2v1h-2zM1032 111h3v1h-3zM1035 110h2v1h-2zM1037 109h3v1h-3zM1040 108h2v1h-2zM1042 107h5v1h-5zM1047 106h5v1h-5zM1052 105h6v1h-6zM1058 104h4v1h-4zM1062 103h3v1h-3zM1065 102h3v1h-3zM1068 101h2v1h-2zM1070 100h3v1h-3zM1073 99h2v1h-2zM1075 98h3v1h-3zM1078 97h3v1h-3zM1081 96h2v1h-2zM1083 95h3v1h-3zM1086 94h3v1h-3zM1089 93h3v1h-3zM1092 92h2v1h-2zM1094 91h3v1h-3zM1097 90h3v1h-3zM1100 89h4v1h-4zM1104 88h5v1h-5zM1109 87h5v1h-5zM1114 86h6v1h-6zM1120 85h9v1h-9zM1129 84h14v1h-14zM1143 83h14v1h-14zM1157 82h4v1h-4zM1161 81h21v1h-21zM1182 80h7v1h-7z" fill="#ff0000"/>
<rect x="1210" y="57" width="2" height="1" fill="#000"/>
<text x="1214.5" y="61" fill="#000" font-size="10" textLength="28" lengthAdjust="spacingAndGlyphs" stroke="#000" stroke-width="0.15" xml:space="preserve">49.590</text>
<rect x="1210" y="90" width="2" height="1" fill="#000"/>
<text x="1214.5" y="94" fill="#000" font-size="10" textLength="28" lengthAdjust="spacingAndGlyphs" stroke="#000" stroke-width="0.15" xml:space="preserve">48.640</text>
<rect x="1210" y="123" width="2" height="1" fill="#000"/>
<text x="1214.5" y="127" fill="#000" font-size="10" textLength="28" lengthAdjust="spacingAndGlyphs" stroke="#000" stroke-width="0.15" xml:space="preserve">47.690</text>
<rect x="1210" y="156" width="2" height="1" fill="#000"/>
<text x="1214.5" y="160" fill="#000" font-size="10" textLength="28" lengthAdjust="spacingAndGlyphs" stroke="#000" stroke-width="0.15" xml:space="preserve">46.740</text>
<rect x="1210" y="190" width="2" height="1" fill="#000"/>
<text x="1214.5" y="194" fill="#000" font-size="10" textLength="28" lengthAdjust="spacingAndGlyphs" stroke="#000" stroke-width="0.15" xml:space="preserve">45.765</text>
<rect x="1210" y="223" width="2" height="1" fill="#000"/>
<text x="1214.5" y="227" fill="#000" font-size="10" textLength="28" lengthAdjust="spacingAndGlyphs" stroke="#000" stroke-width="0.15" xml:space="preserve">44.815</text>
<rect x="1210" y="256" width="2" height="1" fill="#000"/>
<text x="1214.5" y="260" fill="#000" font-size="10" textLength="28" lengthAdjust="spacingAndGlyphs" stroke="#000" stroke-width="0.15" xml:space="preserve">43.865</text>
<rect x="1210" y="289" width="2" height="1" fill="#000"/>
<text x="1214.5" y="293" fill="#000" font-size="10" textLength="28" lengthAdjust="spacingAndGlyphs" stroke="#000" stroke-width="0.15" xml:space="preserve">42.915</text>
<rect x="1210" y="322" width="2" height="1" fill="#000"/>
<text x="1214.5" y="326" fill="#000" font-size="10" textLength="28" lengthAdjust="spacingAndGlyphs" stroke="#000" stroke-width="0.15" xml:space="preserve">41.965</text>
<rect x="1210" y="355" width="2" height="1" fill="#000"/>
<text x="1214.5" y="359" fill="#000" font-size="10" textLength="28" lengthAdjust="spacingAndGlyphs" stroke="#000" stroke-width="0.15" xml:space="preserve">41.015</text>
<rect x="1210" y="388" width="2" height="1" fill="#000"/>
<text x="1214.5" y="392" fill="#000" font-size="10" textLength="28" lengthAdjust="spacingAndGlyphs" stroke="#000" stroke-width="0.15" xml:space="preserve">40.065</text>
<rect x="1210" y="421" width="2" height="1" fill="#000"/>
<text x="1214.5" y="425" fill="#000" font-size="10" textLength="28" lengthAdjust="spacingAndGlyphs" stroke="#000" stroke-width="0.15" xml:space="preserve">39.115</text>
<rect x="3" y="42" width="1207" height="2" fill="#ff0000"/>
<rect x="1212" y="37" width="34" height="11" fill="#ff0000"/>
<text x="1214.5" y="46" fill="#fff" font-size="10" textLength="28" lengthAdjust="spacingAndGlyphs" stroke="#fff" stroke-width="0.15" xml:space="preserve">50.000</text>
<rect x="3" y="163" width="1207" height="2" fill="#00cc00"/>
<rect x="1212" y="158" width="34" height="11" fill="#00cc00"/>
<text x="1214.5" y="167" fill="#fff" font-size="10" textLength="28" lengthAdjust="spacingAndGlyphs" stroke="#fff" stroke-width="0.15" xml:space="preserve">46.500</text>
<rect x="3" y="267" width="1207" height="2" fill="#4058e0"/>
<rect x="1212" y="262" width="34" height="11" fill="#4058e0"/>
<text x="1214.5" y="271" fill="#fff" font-size="10" textLength="28" lengthAdjust="spacingAndGlyphs" stroke="#fff" stroke-width="0.15" xml:space="preserve">43.500</text>
<rect x="3" y="336" width="1207" height="2" fill="#4058e0"/>
<rect x="1212" y="331" width="34" height="11" fill="#4058e0"/>
<text x="1214.5" y="340" fill="#fff" font-size="10" textLength="28" lengthAdjust="spacingAndGlyphs" stroke="#fff" stroke-width="0.15" xml:space="preserve">41.500</text>
<rect x="1212" y="77" width="34" height="11" fill="#000"/>
<text x="1214.5" y="86" fill="#fff" font-size="10" textLength="28" lengthAdjust="spacingAndGlyphs" stroke="#fff" stroke-width="0.15" xml:space="preserve">48.870</text>
<path d="M7 33.5 L14 33.5 L10.5 37.5 Z" fill="#000" shape-rendering="auto"/>
<text x="18" y="39" fill="#000" font-size="10" textLength="45" lengthAdjust="spacingAndGlyphs" stroke="#000" stroke-width="0.15" xml:space="preserve">UKOil-,H4</text>
<text x="67.5" y="39" fill="#000" font-size="10" textLength="121" lengthAdjust="spacingAndGlyphs" stroke="#000" stroke-width="0.15" xml:space="preserve">48.770 48.950 48.690 48.870</text>
<text y="229.5" font-size="38" fill="#ff0000" shape-rendering="auto" text-rendering="geometricPrecision"><tspan x="879" textLength="188" lengthAdjust="spacing">多空转折点</tspan><tspan x="1068" y="228.5" font-size="37.4" textLength="77" lengthAdjust="spacingAndGlyphs">46.5</tspan></text>
<rect x="4" y="495" width="1" height="60" fill="#c0c0c0"/>
<rect x="12" y="497" width="1" height="58" fill="#c0c0c0"/>
<rect x="20" y="497" width="1" height="58" fill="#c0c0c0"/>
<rect x="28" y="495" width="1" height="60" fill="#c0c0c0"/>
<rect x="36" y="496" width="1" height="59" fill="#c0c0c0"/>
<rect x="44" y="499" width="1" height="56" fill="#c0c0c0"/>
<rect x="52" y="501" width="1" height="54" fill="#c0c0c0"/>
<rect x="60" y="511" width="1" height="44" fill="#c0c0c0"/>
<rect x="68" y="516" width="1" height="39" fill="#c0c0c0"/>
<rect x="76" y="523" width="1" height="32" fill="#c0c0c0"/>
<rect x="84" y="533" width="1" height="22" fill="#c0c0c0"/>
<rect x="92" y="539" width="1" height="16" fill="#c0c0c0"/>
<rect x="100" y="545" width="1" height="10" fill="#c0c0c0"/>
<rect x="108" y="546" width="1" height="9" fill="#c0c0c0"/>
<rect x="116" y="543" width="1" height="12" fill="#c0c0c0"/>
<rect x="124" y="542" width="1" height="13" fill="#c0c0c0"/>
<rect x="132" y="526" width="1" height="29" fill="#c0c0c0"/>
<rect x="140" y="507" width="1" height="48" fill="#c0c0c0"/>
<rect x="148" y="496" width="1" height="59" fill="#c0c0c0"/>
<rect x="156" y="493" width="1" height="62" fill="#c0c0c0"/>
<rect x="164" y="491" width="1" height="64" fill="#c0c0c0"/>
<rect x="172" y="483" width="1" height="72" fill="#c0c0c0"/>
<rect x="180" y="477" width="1" height="78" fill="#c0c0c0"/>
<rect x="188" y="470" width="1" height="85" fill="#c0c0c0"/>
<rect x="196" y="463" width="1" height="92" fill="#c0c0c0"/>
<rect x="204" y="454" width="1" height="101" fill="#c0c0c0"/>
<rect x="212" y="448" width="1" height="107" fill="#c0c0c0"/>
<rect x="220" y="440" width="1" height="115" fill="#c0c0c0"/>
<rect x="228" y="434" width="1" height="121" fill="#c0c0c0"/>
<rect x="236" y="433" width="1" height="122" fill="#c0c0c0"/>
<rect x="244" y="439" width="1" height="116" fill="#c0c0c0"/>
<rect x="252" y="446" width="1" height="109" fill="#c0c0c0"/>
<rect x="260" y="452" width="1" height="103" fill="#c0c0c0"/>
<rect x="268" y="459" width="1" height="96" fill="#c0c0c0"/>
<rect x="276" y="467" width="1" height="88" fill="#c0c0c0"/>
<rect x="284" y="467" width="1" height="88" fill="#c0c0c0"/>
<rect x="292" y="477" width="1" height="78" fill="#c0c0c0"/>
<rect x="300" y="486" width="1" height="69" fill="#c0c0c0"/>
<rect x="308" y="496" width="1" height="59" fill="#c0c0c0"/>
<rect x="316" y="505" width="1" height="50" fill="#c0c0c0"/>
<rect x="324" y="513" width="1" height="42" fill="#c0c0c0"/>
<rect x="332" y="520" width="1" height="35" fill="#c0c0c0"/>
<rect x="340" y="526" width="1" height="29" fill="#c0c0c0"/>
<rect x="348" y="533" width="1" height="22" fill="#c0c0c0"/>
<rect x="356" y="536" width="1" height="19" fill="#c0c0c0"/>
<rect x="364" y="536" width="1" height="19" fill="#c0c0c0"/>
<rect x="372" y="534" width="1" height="21" fill="#c0c0c0"/>
<rect x="380" y="528" width="1" height="27" fill="#c0c0c0"/>
<rect x="388" y="521" width="1" height="34" fill="#c0c0c0"/>
<rect x="396" y="520" width="1" height="35" fill="#c0c0c0"/>
<rect x="404" y="519" width="1" height="36" fill="#c0c0c0"/>
<rect x="412" y="517" width="1" height="38" fill="#c0c0c0"/>
<rect x="420" y="520" width="1" height="35" fill="#c0c0c0"/>
<rect x="428" y="522" width="1" height="33" fill="#c0c0c0"/>
<rect x="436" y="528" width="1" height="27" fill="#c0c0c0"/>
<rect x="444" y="528" width="1" height="27" fill="#c0c0c0"/>
<rect x="452" y="529" width="1" height="26" fill="#c0c0c0"/>
<rect x="460" y="530" width="1" height="25" fill="#c0c0c0"/>
<rect x="468" y="529" width="1" height="26" fill="#c0c0c0"/>
<rect x="476" y="522" width="1" height="33" fill="#c0c0c0"/>
<rect x="484" y="518" width="1" height="37" fill="#c0c0c0"/>
<rect x="492" y="519" width="1" height="36" fill="#c0c0c0"/>
<rect x="500" y="521" width="1" height="34" fill="#c0c0c0"/>
<rect x="508" y="523" width="1" height="32" fill="#c0c0c0"/>
<rect x="516" y="525" width="1" height="30" fill="#c0c0c0"/>
<rect x="524" y="526" width="1" height="29" fill="#c0c0c0"/>
<rect x="532" y="529" width="1" height="26" fill="#c0c0c0"/>
<rect x="540" y="529" width="1" height="26" fill="#c0c0c0"/>
<rect x="548" y="531" width="1" height="24" fill="#c0c0c0"/>
<rect x="556" y="532" width="1" height="23" fill="#c0c0c0"/>
<rect x="564" y="531" width="1" height="24" fill="#c0c0c0"/>
<rect x="572" y="531" width="1" height="24" fill="#c0c0c0"/>
<rect x="580" y="531" width="1" height="24" fill="#c0c0c0"/>
<rect x="588" y="526" width="1" height="29" fill="#c0c0c0"/>
<rect x="596" y="522" width="1" height="33" fill="#c0c0c0"/>
<rect x="604" y="519" width="1" height="36" fill="#c0c0c0"/>
<rect x="612" y="517" width="1" height="38" fill="#c0c0c0"/>
<rect x="620" y="511" width="1" height="44" fill="#c0c0c0"/>
<rect x="628" y="509" width="1" height="46" fill="#c0c0c0"/>
<rect x="636" y="504" width="1" height="51" fill="#c0c0c0"/>
<rect x="644" y="501" width="1" height="54" fill="#c0c0c0"/>
<rect x="652" y="500" width="1" height="55" fill="#c0c0c0"/>
<rect x="660" y="493" width="1" height="62" fill="#c0c0c0"/>
<rect x="668" y="491" width="1" height="64" fill="#c0c0c0"/>
<rect x="676" y="488" width="1" height="67" fill="#c0c0c0"/>
<rect x="684" y="475" width="1" height="80" fill="#c0c0c0"/>
<rect x="692" y="465" width="1" height="90" fill="#c0c0c0"/>
<rect x="700" y="458" width="1" height="97" fill="#c0c0c0"/>
<rect x="708" y="450" width="1" height="105" fill="#c0c0c0"/>
<rect x="716" y="444" width="1" height="111" fill="#c0c0c0"/>
<rect x="724" y="442" width="1" height="113" fill="#c0c0c0"/>
<rect x="732" y="441" width="1" height="114" fill="#c0c0c0"/>
<rect x="740" y="439" width="1" height="116" fill="#c0c0c0"/>
<rect x="748" y="437" width="1" height="118" fill="#c0c0c0"/>
<rect x="756" y="447" width="1" height="108" fill="#c0c0c0"/>
<rect x="764" y="455" width="1" height="100" fill="#c0c0c0"/>
<rect x="772" y="462" width="1" height="93" fill="#c0c0c0"/>
<rect x="780" y="469" width="1" height="86" fill="#c0c0c0"/>
<rect x="788" y="475" width="1" height="80" fill="#c0c0c0"/>
<rect x="796" y="481" width="1" height="74" fill="#c0c0c0"/>
<rect x="804" y="484" width="1" height="71" fill="#c0c0c0"/>
<rect x="812" y="487" width="1" height="68" fill="#c0c0c0"/>
<rect x="820" y="489" width="1" height="66" fill="#c0c0c0"/>
<rect x="828" y="495" width="1" height="60" fill="#c0c0c0"/>
<rect x="836" y="500" width="1" height="55" fill="#c0c0c0"/>
<rect x="844" y="508" width="1" height="47" fill="#c0c0c0"/>
<rect x="852" y="515" width="1" height="40" fill="#c0c0c0"/>
<rect x="860" y="517" width="1" height="38" fill="#c0c0c0"/>
<rect x="868" y="518" width="1" height="37" fill="#c0c0c0"/>
<rect x="876" y="522" width="1" height="33" fill="#c0c0c0"/>
<rect x="884" y="526" width="1" height="29" fill="#c0c0c0"/>
<rect x="892" y="524" width="1" height="31" fill="#c0c0c0"/>
<rect x="900" y="526" width="1" height="29" fill="#c0c0c0"/>
<rect x="908" y="532" width="1" height="23" fill="#c0c0c0"/>
<rect x="916" y="537" width="1" height="18" fill="#c0c0c0"/>
<rect x="924" y="542" width="1" height="13" fill="#c0c0c0"/>
<rect x="932" y="548" width="1" height="7" fill="#c0c0c0"/>
<rect x="940" y="549" width="1" height="6" fill="#c0c0c0"/>
<rect x="948" y="551" width="1" height="4" fill="#c0c0c0"/>
<rect x="956" y="543" width="1" height="12" fill="#c0c0c0"/>
<rect x="964" y="541" width="1" height="14" fill="#c0c0c0"/>
<rect x="972" y="539" width="1" height="16" fill="#c0c0c0"/>
<rect x="980" y="536" width="1" height="19" fill="#c0c0c0"/>
<rect x="988" y="532" width="1" height="23" fill="#c0c0c0"/>
<rect x="996" y="533" width="1" height="22" fill="#c0c0c0"/>
<rect x="1004" y="530" width="1" height="25" fill="#c0c0c0"/>
<rect x="1012" y="526" width="1" height="29" fill="#c0c0c0"/>
<rect x="1020" y="523" width="1" height="32" fill="#c0c0c0"/>
<rect x="1028" y="513" width="1" height="42" fill="#c0c0c0"/>
<rect x="1036" y="504" width="1" height="51" fill="#c0c0c0"/>
<rect x="1044" y="503" width="1" height="52" fill="#c0c0c0"/>
<rect x="1052" y="505" width="1" height="50" fill="#c0c0c0"/>
<rect x="1060" y="506" width="1" height="49" fill="#c0c0c0"/>
<rect x="1068" y="507" width="1" height="48" fill="#c0c0c0"/>
<rect x="1076" y="509" width="1" height="46" fill="#c0c0c0"/>
<rect x="1084" y="511" width="1" height="44" fill="#c0c0c0"/>
<rect x="1092" y="513" width="1" height="42" fill="#c0c0c0"/>
<rect x="1100" y="518" width="1" height="37" fill="#c0c0c0"/>
<rect x="1108" y="521" width="1" height="34" fill="#c0c0c0"/>
<rect x="1116" y="525" width="1" height="30" fill="#c0c0c0"/>
<rect x="1124" y="529" width="1" height="26" fill="#c0c0c0"/>
<rect x="1132" y="535" width="1" height="20" fill="#c0c0c0"/>
<rect x="1140" y="537" width="1" height="18" fill="#c0c0c0"/>
<rect x="1148" y="539" width="1" height="16" fill="#c0c0c0"/>
<rect x="1156" y="541" width="1" height="14" fill="#c0c0c0"/>
<rect x="1164" y="540" width="1" height="15" fill="#c0c0c0"/>
<rect x="1172" y="541" width="1" height="14" fill="#c0c0c0"/>
<rect x="1180" y="542" width="1" height="13" fill="#c0c0c0"/>
<rect x="1188" y="542" width="1" height="13" fill="#c0c0c0"/>
<path d="M4 524h1v1h-1zM5 523h1v1h-1zM6 522h2v1h-2zM8 521h1v1h-1zM12 518h1v1h-1zM13 517h1v1h-1zM14 516h2v1h-2zM16 515h1v1h-1zM20 512h1v1h-1zM21 511h2v1h-2zM23 510h1v1h-1zM24 509h1v1h-1zM28 507h1v1h-1zM29 506h2v1h-2zM31 505h2v1h-2zM36 503h1v1h-1zM37 502h3v1h-3zM40 501h1v1h-1zM44 500h2v1h-2zM46 499h3v1h-3zM52 498h5v1h-5zM60 498h2v1h-2zM62 499h3v1h-3zM68 500h1v1h-1zM69 501h3v1h-3zM72 502h1v1h-1zM76 504h2v1h-2zM78 505h2v1h-2zM80 506h1v1h-1zM84 508h2v1h-2zM86 509h2v1h-2zM88 510h1v1h-1zM92 512h2v1h-2zM94 513h1v1h-1zM95 514h2v1h-2zM100 517h1v1h-1zM101 518h2v1h-2zM103 519h1v1h-1zM104 520h1v1h-1zM108 523h2v1h-2zM110 524h1v1h-1zM111 525h2v1h-2zM116 528h2v1h-2zM118 529h2v1h-2zM120 530h1v1h-1zM124 532h3v1h-3zM127 533h2v1h-2zM132 534h4v1h-4zM136 533h1v1h-1zM140 533h1v1h-1zM141 532h3v1h-3zM144 531h1v1h-1zM148 529h2v1h-2zM150 528h2v1h-2zM152 527h1v1h-1zM156 525h2v1h-2zM158 524h2v1h-2zM160 523h1v1h-1zM164 520h1v1h-1zM165 519h2v1h-2zM167 518h1v1h-1zM168 517h1v1h-1zM172 513h1v1h-1zM173 512h1v1h-1zM174 511h1v1h-1zM175 510h1v1h-1zM176 509h1v1h-1zM180 505h1v1h-1zM181 504h1v1h-1zM182 503h1v1h-1zM183 502h1v1h-1zM184 501h1v1h-1zM188 497h1v1h-1zM189 496h1v1h-1zM190 494h1v2h-1zM191 493h1v1h-1zM192 492h1v1h-1zM196 488h1v1h-1zM197 487h1v1h-1zM198 486h1v1h-1zM199 485h1v1h-1zM200 484h1v1h-1zM204 481h1v1h-1zM205 480h1v1h-1zM206 479h1v1h-1zM207 478h1v1h-1zM208 477h1v1h-1zM212 473h2v1h-2zM214 472h1v1h-1zM215 471h1v1h-1zM216 470h1v1h-1zM220 468h1v1h-1zM221 467h1v1h-1zM222 466h1v1h-1zM223 465h1v1h-1zM224 464h1v1h-1zM228 461h1v1h-1zM229 460h1v1h-1zM230 459h1v1h-1zM231 458h2v1h-2zM236 455h1v1h-1zM237 454h1v1h-1zM238 453h2v1h-2zM240 452h1v1h-1zM244 450h2v1h-2zM246 449h2v1h-2zM248 448h1v1h-1zM252 447h1v1h-1zM253 446h4v1h-4zM260 445h2v1h-2zM262 444h3v1h-3zM268 444h3v1h-3zM271 445h2v1h-2zM276 446h3v1h-3zM279 447h2v1h-2zM284 448h2v1h-2zM286 449h2v1h-2zM288 450h1v1h-1zM292 452h2v1h-2zM294 453h2v1h-2zM296 454h1v1h-1zM300 457h2v1h-2zM302 458h1v1h-1zM303 459h1v1h-1zM304 460h1v1h-1zM308 464h1v1h-1zM309 465h1v1h-1zM310 466h1v1h-1zM311 467h1v1h-1zM312 468h1v1h-1zM316 472h1v1h-1zM317 473h1v1h-1zM318 474h1v1h-1zM319 475h1v1h-1zM320 476h1v1h-1zM324 480h1v1h-1zM325 481h2v1h-2zM327 482h1v1h-1zM328 483h1v1h-1zM332 487h1v1h-1zM333 488h2v1h-2zM335 489h1v1h-1zM336 490h1v1h-1zM340 494h1v1h-1zM341 495h1v1h-1zM342 496h1v1h-1zM343 497h1v1h-1zM344 498h1v1h-1zM348 502h1v1h-1zM349 503h1v1h-1zM350 504h2v1h-2zM352 505h1v1h-1zM356 509h1v1h-1zM357 510h1v1h-1zM358 511h1v1h-1zM359 512h1v1h-1zM360 513h1v1h-1zM364 516h1v1h-1zM365 517h2v1h-2zM367 518h1v1h-1zM368 519h1v1h-1zM372 521h2v1h-2zM374 522h2v1h-2zM376 523h1v1h-1zM380 525h4v1h-4zM384 526h1v1h-1zM388 526h3v1h-3zM391 527h2v1h-2zM396 527h5v1h-5zM404 527h5v1h-5zM412 526h5v1h-5zM420 525h3v1h-3zM423 524h2v1h-2zM428 523h3v1h-3zM431 522h2v1h-2zM436 522h4v1h-4zM440 521h1v1h-1zM444 521h5v1h-5zM452 522h5v1h-5zM460 523h5v1h-5zM468 523h2v1h-2zM470 524h3v1h-3zM476 524h5v1h-5zM484 524h5v1h-5zM492 524h5v1h-5zM500 524h5v1h-5zM508 523h5v1h-5zM516 523h5v1h-5zM524 523h5v1h-5zM532 523h4v1h-4zM536 522h1v1h-1zM540 522h5v1h-5zM548 523h3v1h-3zM551 524h2v1h-2zM556 525h5v1h-5zM564 526h4v1h-4zM568 527h1v1h-1zM572 527h4v1h-4zM576 528h1v1h-1zM580 528h5v1h-5zM588 529h4v1h-4zM592 528h1v1h-1zM596 528h5v1h-5zM604 527h4v1h-4zM608 526h1v1h-1zM612 526h1v1h-1zM613 525h3v1h-3zM616 524h1v1h-1zM620 523h2v1h-2zM622 522h3v1h-3zM628 521h1v1h-1zM629 520h3v1h-3zM632 519h1v1h-1zM636 518h1v1h-1zM637 517h3v1h-3zM640 516h1v1h-1zM644 514h3v1h-3zM647 513h2v1h-2zM652 511h1v1h-1zM653 510h2v1h-2zM655 509h2v1h-2zM660 507h1v1h-1zM661 506h3v1h-3zM664 505h1v1h-1zM668 504h1v1h-1zM669 503h2v1h-2zM671 502h2v1h-2zM676 500h1v1h-1zM677 499h2v1h-2zM679 498h2v1h-2zM684 496h1v1h-1zM685 495h2v1h-2zM687 494h2v1h-2zM692 492h1v1h-1zM693 491h1v1h-1zM694 490h1v1h-1zM695 489h2v1h-2zM700 486h1v1h-1zM701 485h1v1h-1zM702 484h1v1h-1zM703 483h2v1h-2zM708 479h1v1h-1zM709 478h2v1h-2zM711 477h1v1h-1zM712 476h1v1h-1zM716 473h1v1h-1zM717 472h1v1h-1zM718 471h1v1h-1zM719 470h1v1h-1zM720 469h1v1h-1zM724 466h1v1h-1zM725 465h1v1h-1zM726 464h2v1h-2zM728 463h1v1h-1zM732 461h1v1h-1zM733 460h1v1h-1zM734 459h1v1h-1zM735 458h2v1h-2zM740 455h1v1h-1zM741 454h1v1h-1zM742 453h2v1h-2zM744 452h1v1h-1zM748 449h2v1h-2zM750 448h3v1h-3zM756 446h5v1h-5zM764 445h5v1h-5zM772 445h2v1h-2zM774 446h2v1h-2zM776 447h1v1h-1zM780 448h2v1h-2zM782 449h2v1h-2zM784 450h1v1h-1zM788 451h1v1h-1zM789 452h2v1h-2zM791 453h2v1h-2zM796 456h2v1h-2zM798 457h2v1h-2zM800 458h1v1h-1zM804 460h1v1h-1zM805 461h2v1h-2zM807 462h1v1h-1zM808 463h1v1h-1zM812 466h2v1h-2zM814 467h1v1h-1zM815 468h2v1h-2zM820 471h1v1h-1zM821 472h1v1h-1zM822 473h2v1h-2zM824 474h1v1h-1zM828 477h2v1h-2zM830 478h1v1h-1zM831 479h2v1h-2zM836 482h1v1h-1zM837 483h2v1h-2zM839 484h1v1h-1zM840 485h1v1h-1zM844 487h1v1h-1zM845 488h1v1h-1zM846 489h2v1h-2zM848 490h1v1h-1zM852 492h1v1h-1zM853 493h3v1h-3zM856 494h1v1h-1zM860 496h2v1h-2zM862 497h2v1h-2zM864 498h1v1h-1zM868 500h2v1h-2zM870 501h1v1h-1zM871 502h2v1h-2zM876 505h2v1h-2zM878 506h2v1h-2zM880 507h1v1h-1zM884 509h2v1h-2zM886 510h2v1h-2zM888 511h1v1h-1zM892 513h2v1h-2zM894 514h2v1h-2zM896 515h1v1h-1zM900 516h1v1h-1zM901 517h2v1h-2zM903 518h2v1h-2zM908 520h2v1h-2zM910 521h3v1h-3zM916 523h2v1h-2zM918 524h2v1h-2zM920 525h1v1h-1zM924 526h1v1h-1zM925 527h2v1h-2zM927 528h2v1h-2zM932 530h2v1h-2zM934 531h2v1h-2zM936 532h1v1h-1zM940 533h1v1h-1zM941 534h3v1h-3zM944 535h1v1h-1zM948 536h3v1h-3zM951 537h2v1h-2zM956 538h3v1h-3zM959 539h2v1h-2zM964 540h5v1h-5zM972 541h5v1h-5zM980 542h4v1h-4zM984 541h1v1h-1zM988 541h4v1h-4zM992 540h1v1h-1zM996 540h2v1h-2zM998 539h3v1h-3zM1004 538h2v1h-2zM1006 537h3v1h-3zM1012 536h1v1h-1zM1013 535h2v1h-2zM1015 534h2v1h-2zM1020 532h1v1h-1zM1021 531h2v1h-2zM1023 530h2v1h-2zM1028 528h2v1h-2zM1030 527h2v1h-2zM1032 526h1v1h-1zM1036 524h3v1h-3zM1039 523h2v1h-2zM1044 521h1v1h-1zM1045 520h3v1h-3zM1048 519h1v1h-1zM1052 518h1v1h-1zM1053 517h3v1h-3zM1056 516h1v1h-1zM1060 515h1v1h-1zM1061 514h3v1h-3zM1064 513h1v1h-1zM1068 512h2v1h-2zM1070 511h3v1h-3zM1076 510h2v1h-2zM1078 509h3v1h-3zM1084 508h5v1h-5zM1092 507h3v1h-3zM1095 508h2v1h-2zM1100 508h2v1h-2zM1102 509h3v1h-3zM1108 509h1v1h-1zM1109 510h3v1h-3zM1112 511h1v1h-1zM1116 512h1v1h-1zM1117 513h3v1h-3zM1120 514h1v1h-1zM1124 515h1v1h-1zM1125 516h3v1h-3zM1128 517h1v1h-1zM1132 518h1v1h-1zM1133 519h3v1h-3zM1136 520h1v1h-1zM1140 521h1v1h-1zM1141 522h3v1h-3zM1144 523h1v1h-1zM1148 524h2v1h-2zM1150 525h2v1h-2zM1152 526h1v1h-1zM1156 527h1v1h-1zM1157 528h2v1h-2zM1159 529h2v1h-2zM1164 531h3v1h-3zM1167 532h2v1h-2zM1172 533h3v1h-3zM1175 534h2v1h-2zM1180 535h3v1h-3zM1183 536h2v1h-2zM1188 537h1v1h-1z" fill="#ff0000"/>
<text x="7" y="438" fill="#000" font-size="10" textLength="128" lengthAdjust="spacingAndGlyphs" stroke="#000" stroke-width="0.15" xml:space="preserve">MACD(12,26,9) 0.1160 0.1496</text>
<rect x="1210" y="427" width="2" height="1" fill="#000"/>
<text x="1213" y="436" fill="#000" font-size="10" textLength="28" lengthAdjust="spacingAndGlyphs" stroke="#000" stroke-width="0.15" xml:space="preserve">1.1717</text>
<rect x="1210" y="554" width="2" height="1" fill="#000"/>
<text x="1212" y="553" fill="#000" font-size="10" textLength="31" lengthAdjust="spacingAndGlyphs" stroke="#000" stroke-width="0.15" xml:space="preserve">-0.0172</text>
<clipPath id="cz"><rect x="1210" y="540" width="36" height="16"/></clipPath>
<text x="1213" y="559" fill="#000" font-size="10" textLength="18" lengthAdjust="spacingAndGlyphs" stroke="#000" stroke-width="0.15" xml:space="preserve" clip-path="url(#cz)">0.00</text>
<line x1="5" y1="593.5" x2="1209" y2="593.5" stroke="#c0c0c0" stroke-width="1" stroke-dasharray="3 3"/>
<line x1="5" y1="638.5" x2="1209" y2="638.5" stroke="#c0c0c0" stroke-width="1" stroke-dasharray="3 3"/>
<path d="M4 599h1v1h-1zM5 600h1v1h-1zM6 601h1v1h-1zM7 602h1v1h-1zM8 603h1v1h-1zM9 604h1v1h-1zM10 605h1v1h-1zM11 606h1v1h-1zM12 607h2v1h-2zM14 606h2v1h-2zM16 605h3v1h-3zM19 604h2v1h-2zM21 603h5v1h-5zM26 602h4v1h-4zM30 603h2v1h-2zM32 604h2v1h-2zM34 605h2v1h-2zM36 606h5v1h-5zM41 607h12v1h-12zM53 608h1v1h-1zM54 609h1v2h-1zM55 611h1v1h-1zM56 612h1v1h-1zM57 613h1v2h-1zM58 615h1v1h-1zM59 616h1v1h-1zM60 617h1v2h-1zM61 617h2v1h-2zM63 616h1v1h-1zM64 615h2v1h-2zM66 614h2v1h-2zM68 613h1v1h-1zM69 614h3v1h-3zM72 615h2v1h-2zM74 616h2v1h-2zM76 617h2v1h-2zM78 618h2v1h-2zM80 619h2v1h-2zM82 620h2v1h-2zM84 621h1v1h-1zM85 620h5v1h-5zM90 619h6v1h-6zM96 620h5v1h-5zM101 619h2v1h-2zM103 618h2v1h-2zM105 617h1v1h-1zM106 616h2v1h-2zM108 615h1v1h-1zM109 614h2v1h-2zM111 613h2v1h-2zM113 612h1v1h-1zM114 611h2v1h-2zM116 610h4v1h-4zM120 611h5v1h-5zM125 609h1v2h-1zM126 607h1v2h-1zM127 606h1v1h-1zM128 604h1v2h-1zM129 602h1v2h-1zM130 600h1v2h-1zM131 598h1v2h-1zM132 597h1v1h-1zM133 596h1v1h-1zM134 595h2v1h-2zM136 594h2v1h-2zM138 593h2v1h-2zM140 592h1v1h-1zM141 593h2v1h-2zM143 594h1v1h-1zM144 595h2v1h-2zM146 596h2v1h-2zM148 597h1v1h-1zM149 598h2v1h-2zM151 599h1v1h-1zM152 600h1v1h-1zM153 601h2v1h-2zM155 602h1v1h-1zM156 603h5v1h-5zM161 604h4v1h-4zM165 603h1v1h-1zM166 602h1v1h-1zM167 601h2v1h-2zM169 600h1v1h-1zM170 599h1v1h-1zM171 598h1v1h-1zM172 597h4v1h-4zM176 598h6v1h-6zM182 597h3v1h-3zM185 596h2v1h-2zM187 595h4v1h-4zM191 594h4v1h-4zM195 593h4v1h-4zM199 592h4v1h-4zM203 591h10v1h-10zM213 590h3v1h-3zM216 589h3v1h-3zM219 588h6v1h-6zM225 587h4v1h-4zM229 588h2v1h-2zM231 589h1v1h-1zM232 590h2v1h-2zM234 591h2v1h-2zM236 592h1v1h-1zM237 593h1v1h-1zM238 594h1v1h-1zM239 595h1v1h-1zM240 596h1v1h-1zM241 597h1v1h-1zM242 598h1v1h-1zM243 599h1v1h-1zM244 600h2v1h-2zM246 601h4v1h-4zM250 602h7v1h-7zM257 601h5v1h-5zM262 602h4v1h-4zM266 603h4v1h-4zM270 604h2v1h-2zM272 605h3v1h-3zM275 606h2v1h-2zM277 605h1v1h-1zM278 604h1v1h-1zM279 603h2v1h-2zM281 602h1v1h-1zM282 601h1v1h-1zM283 600h1v1h-1zM284 599h1v1h-1zM285 600h1v1h-1zM286 601h1v2h-1zM287 603h1v1h-1zM288 604h1v1h-1zM289 605h1v2h-1zM290 607h1v1h-1zM291 608h1v1h-1zM292 609h1v2h-1zM293 610h2v1h-2zM295 611h3v1h-3zM298 612h4v1h-4zM302 613h2v1h-2zM304 614h3v1h-3zM307 615h6v1h-6zM313 614h6v1h-6zM319 615h4v1h-4zM323 616h13v1h-13zM336 617h8v1h-8zM344 618h6v1h-6zM350 617h2v1h-2zM352 616h2v1h-2zM354 615h2v1h-2zM356 614h3v1h-3zM359 613h3v1h-3zM362 612h3v1h-3zM365 611h2v1h-2zM367 610h2v1h-2zM369 609h1v1h-1zM370 608h2v1h-2zM372 607h2v1h-2zM374 606h1v1h-1zM375 605h1v1h-1zM376 604h1v1h-1zM377 603h2v1h-2zM379 602h1v1h-1zM380 601h2v1h-2zM382 600h3v1h-3zM385 599h2v1h-2zM387 598h2v1h-2zM389 599h1v1h-1zM390 600h1v1h-1zM391 601h1v1h-1zM392 602h1v1h-1zM393 603h1v1h-1zM394 604h1v1h-1zM395 605h1v1h-1zM396 606h10v1h-10zM406 605h3v1h-3zM409 604h2v1h-2zM411 603h2v1h-2zM413 604h1v1h-1zM414 605h1v1h-1zM415 606h2v1h-2zM417 607h1v1h-1zM418 608h1v1h-1zM419 609h1v1h-1zM420 610h9v1h-9zM429 611h2v1h-2zM431 612h1v1h-1zM432 613h1v1h-1zM433 614h2v1h-2zM435 615h1v1h-1zM436 616h1v1h-1zM437 615h1v1h-1zM438 614h1v1h-1zM439 613h1v1h-1zM440 612h1v1h-1zM441 611h2v1h-2zM443 610h1v1h-1zM444 609h5v1h-5zM449 610h8v1h-8zM457 611h4v1h-4zM461 610h2v1h-2zM463 609h2v1h-2zM465 608h2v1h-2zM467 607h2v1h-2zM469 606h1v1h-1zM470 605h1v1h-1zM471 604h1v1h-1zM472 603h1v1h-1zM473 602h1v1h-1zM474 601h1v1h-1zM475 600h1v1h-1zM476 599h5v1h-5zM481 600h4v1h-4zM485 601h1v1h-1zM486 602h1v1h-1zM487 603h1v1h-1zM488 604h1v1h-1zM489 605h1v1h-1zM490 606h1v1h-1zM491 607h1v1h-1zM492 608h2v1h-2zM494 609h4v1h-4zM498 610h7v1h-7zM505 609h6v1h-6zM511 610h3v1h-3zM514 611h4v1h-4zM518 610h3v1h-3zM521 609h2v1h-2zM523 608h2v1h-2zM525 609h2v1h-2zM527 610h1v1h-1zM528 611h2v1h-2zM530 612h2v1h-2zM532 613h1v1h-1zM533 612h2v1h-2zM535 611h2v1h-2zM537 610h1v1h-1zM538 609h2v1h-2zM540 608h1v1h-1zM541 609h2v1h-2zM543 610h2v1h-2zM545 611h2v1h-2zM547 612h4v1h-4zM551 611h3v1h-3zM554 610h4v1h-4zM558 609h2v1h-2zM560 608h3v1h-3zM563 607h6v1h-6zM569 608h8v1h-8zM577 609h4v1h-4zM581 608h1v1h-1zM582 607h1v1h-1zM583 606h1v1h-1zM584 604h1v2h-1zM585 603h1v1h-1zM586 602h1v1h-1zM587 601h1v1h-1zM588 600h4v1h-4zM592 599h8v1h-8zM600 598h13v1h-13zM613 597h1v1h-1zM614 596h2v1h-2zM616 595h1v1h-1zM617 594h1v1h-1zM618 593h2v1h-2zM620 592h1v1h-1zM621 593h2v1h-2zM623 594h1v1h-1zM624 595h1v1h-1zM625 596h2v1h-2zM627 597h1v1h-1zM628 598h1v1h-1zM629 597h2v1h-2zM631 596h2v1h-2zM633 595h2v1h-2zM635 594h4v1h-4zM639 593h7v1h-7zM646 594h3v1h-3zM649 595h2v1h-2zM651 596h2v1h-2zM653 595h1v1h-1zM654 594h1v1h-1zM655 593h2v1h-2zM657 592h1v1h-1zM658 591h1v1h-1zM659 590h1v1h-1zM660 589h1v1h-1zM661 590h2v1h-2zM663 591h2v1h-2zM665 592h1v1h-1zM666 593h2v1h-2zM668 594h2v1h-2zM670 593h4v1h-4zM674 592h3v1h-3zM677 591h1v1h-1zM678 590h1v1h-1zM679 588h1v2h-1zM680 587h1v1h-1zM681 586h1v1h-1zM682 585h1v1h-1zM683 584h1v1h-1zM684 583h3v1h-3zM687 582h15v1h-15zM702 581h4v1h-4zM706 580h13v1h-13zM719 581h4v1h-4zM723 582h11v1h-11zM734 581h4v1h-4zM738 580h7v1h-7zM745 579h4v1h-4zM749 580h1v3h-1zM750 583h1v3h-1zM751 586h1v3h-1zM752 589h1v3h-1zM753 592h1v3h-1zM754 595h1v3h-1zM755 598h1v3h-1zM756 601h1v3h-1zM757 603h2v1h-2zM759 602h8v1h-8zM767 601h11v1h-11zM778 602h15v1h-15zM793 603h4v1h-4zM797 602h2v1h-2zM799 601h1v1h-1zM800 600h2v1h-2zM802 599h1v1h-1zM803 598h4v1h-4zM807 599h4v1h-4zM811 600h3v1h-3zM814 599h4v1h-4zM818 598h3v1h-3zM821 599h1v1h-1zM822 600h1v1h-1zM823 601h1v1h-1zM824 602h1v1h-1zM825 603h1v1h-1zM826 604h1v2h-1zM827 606h1v1h-1zM828 607h9v1h-9zM837 608h1v1h-1zM838 609h1v1h-1zM839 610h1v1h-1zM840 611h1v1h-1zM841 612h1v1h-1zM842 613h1v1h-1zM843 614h1v1h-1zM844 615h2v1h-2zM846 614h4v1h-4zM850 613h3v1h-3zM853 612h2v1h-2zM855 611h2v1h-2zM857 610h1v1h-1zM858 609h2v1h-2zM860 608h2v1h-2zM862 607h3v1h-3zM865 606h2v1h-2zM867 605h2v1h-2zM869 606h1v1h-1zM870 607h1v1h-1zM871 608h2v1h-2zM873 609h1v1h-1zM874 610h1v1h-1zM875 611h1v1h-1zM876 612h3v1h-3zM879 613h4v1h-4zM883 614h2v1h-2zM885 613h1v1h-1zM886 611h1v2h-1zM887 610h1v1h-1zM888 609h1v1h-1zM889 608h1v1h-1zM890 606h1v2h-1zM891 605h1v1h-1zM892 604h1v1h-1zM893 605h1v1h-1zM894 606h1v1h-1zM895 607h1v1h-1zM896 608h1v1h-1zM897 609h1v1h-1zM898 610h1v1h-1zM899 611h1v1h-1zM900 612h2v1h-2zM902 613h2v1h-2zM904 614h2v1h-2zM906 615h2v1h-2zM908 616h3v1h-3zM911 617h4v1h-4zM915 618h4v1h-4zM919 619h4v1h-4zM923 620h4v1h-4zM927 621h4v1h-4zM931 622h2v1h-2zM933 621h1v1h-1zM934 620h1v1h-1zM935 619h1v1h-1zM936 618h2v1h-2zM938 617h1v1h-1zM939 616h1v1h-1zM940 615h3v1h-3zM943 616h4v1h-4zM947 617h2v1h-2zM949 615h1v2h-1zM950 613h1v2h-1zM951 612h1v1h-1zM952 610h1v2h-1zM953 608h1v2h-1zM954 606h1v2h-1zM955 605h1v1h-1zM956 603h1v2h-1zM957 604h2v1h-2zM959 605h2v1h-2zM961 606h1v1h-1zM962 607h2v1h-2zM964 608h3v1h-3zM967 609h4v1h-4zM971 610h3v1h-3zM974 609h4v1h-4zM978 608h3v1h-3zM981 607h2v1h-2zM983 606h2v1h-2zM985 605h2v1h-2zM987 604h2v1h-2zM989 605h1v1h-1zM990 606h1v1h-1zM991 607h1v1h-1zM992 608h1v1h-1zM993 609h1v1h-1zM994 610h1v1h-1zM995 611h1v1h-1zM996 612h1v1h-1zM997 611h2v1h-2zM999 610h1v1h-1zM1000 609h2v1h-2zM1002 608h2v1h-2zM1004 607h2v1h-2zM1006 606h2v1h-2zM1008 605h3v1h-3zM1011 604h5v1h-5zM1016 603h5v1h-5zM1021 602h1v1h-1zM1022 601h1v1h-1zM1023 600h1v1h-1zM1024 599h1v1h-1zM1025 598h2v1h-2zM1027 597h1v1h-1zM1028 596h2v1h-2zM1030 595h4v1h-4zM1034 594h3v1h-3zM1037 595h1v1h-1zM1038 596h1v1h-1zM1039 597h1v1h-1zM1040 598h1v1h-1zM1041 599h1v1h-1zM1042 600h1v1h-1zM1043 601h1v1h-1zM1044 602h1v1h-1zM1045 603h2v1h-2zM1047 604h1v1h-1zM1048 605h1v1h-1zM1049 606h2v1h-2zM1051 607h1v1h-1zM1052 608h2v1h-2zM1054 607h4v1h-4zM1058 606h15v1h-15zM1073 607h7v1h-7zM1080 606h13v1h-13zM1093 607h2v1h-2zM1095 608h1v1h-1zM1096 609h1v1h-1zM1097 610h2v1h-2zM1099 611h1v1h-1zM1100 612h2v1h-2zM1102 611h4v1h-4zM1106 610h4v1h-4zM1110 611h3v1h-3zM1113 612h2v1h-2zM1115 613h6v1h-6zM1121 614h4v1h-4zM1125 615h2v1h-2zM1127 616h2v1h-2zM1129 617h1v1h-1zM1130 618h2v1h-2zM1132 619h1v1h-1zM1133 618h1v1h-1zM1134 617h2v1h-2zM1136 616h1v1h-1zM1137 615h1v1h-1zM1138 614h2v1h-2zM1140 613h3v1h-3zM1143 614h4v1h-4zM1147 615h3v1h-3zM1150 614h4v1h-4zM1154 613h4v1h-4zM1158 612h2v1h-2zM1160 611h3v1h-3zM1163 610h3v1h-3zM1166 611h3v1h-3zM1169 612h2v1h-2zM1171 613h11v1h-11zM1182 612h2v1h-2zM1184 611h3v1h-3zM1187 610h2v1h-2z" fill="#1e90ff"/>
<text x="7" y="571" fill="#000" font-size="10" textLength="68.5" lengthAdjust="spacingAndGlyphs" stroke="#000" stroke-width="0.15" xml:space="preserve">RSI(14) 54.6956</text>
<rect x="1210" y="560" width="2" height="1" fill="#000"/>
<text x="1213" y="569" fill="#000" font-size="10" textLength="14.5" lengthAdjust="spacingAndGlyphs" stroke="#000" stroke-width="0.15" xml:space="preserve">100</text>
<text x="1212" y="597" fill="#000" font-size="10" textLength="10" lengthAdjust="spacingAndGlyphs" stroke="#000" stroke-width="0.15" xml:space="preserve">70</text>
<text x="1212" y="642" fill="#000" font-size="10" textLength="10" lengthAdjust="spacingAndGlyphs" stroke="#000" stroke-width="0.15" xml:space="preserve">30</text>
<text x="1212" y="669" fill="#000" font-size="10" textLength="5" lengthAdjust="spacingAndGlyphs" stroke="#000" stroke-width="0.15" xml:space="preserve">0</text>
<rect x="1210" y="670" width="2" height="1" fill="#000"/>
<rect x="4" y="673" width="1" height="3" fill="#000"/>
<text x="2.5" y="685" fill="#000" font-size="10" textLength="48" lengthAdjust="spacingAndGlyphs" stroke="#000" stroke-width="0.15" xml:space="preserve">4 Nov 2020</text>
<rect x="68" y="673" width="1" height="3" fill="#000"/>
<text x="66.5" y="685" fill="#000" font-size="10" textLength="51" lengthAdjust="spacingAndGlyphs" stroke="#000" stroke-width="0.15" xml:space="preserve">6 Nov 05:00</text>
<rect x="132" y="673" width="1" height="3" fill="#000"/>
<text x="130.5" y="685" fill="#000" font-size="10" textLength="51" lengthAdjust="spacingAndGlyphs" stroke="#000" stroke-width="0.15" xml:space="preserve">9 Nov 08:00</text>
<rect x="196" y="673" width="1" height="3" fill="#000"/>
<text x="194.5" y="685" fill="#000" font-size="10" textLength="57" lengthAdjust="spacingAndGlyphs" stroke="#000" stroke-width="0.15" xml:space="preserve">10 Nov 17:00</text>
<rect x="260" y="673" width="1" height="3" fill="#000"/>
<text x="258.5" y="685" fill="#000" font-size="10" textLength="57" lengthAdjust="spacingAndGlyphs" stroke="#000" stroke-width="0.15" xml:space="preserve">12 Nov 01:00</text>
<rect x="324" y="673" width="1" height="3" fill="#000"/>
<text x="322.5" y="685" fill="#000" font-size="10" textLength="57" lengthAdjust="spacingAndGlyphs" stroke="#000" stroke-width="0.15" xml:space="preserve">13 Nov 09:00</text>
<rect x="388" y="673" width="1" height="3" fill="#000"/>
<text x="386.5" y="685" fill="#000" font-size="10" textLength="57" lengthAdjust="spacingAndGlyphs" stroke="#000" stroke-width="0.15" xml:space="preserve">16 Nov 12:00</text>
<rect x="452" y="673" width="1" height="3" fill="#000"/>
<text x="450.5" y="685" fill="#000" font-size="10" textLength="57" lengthAdjust="spacingAndGlyphs" stroke="#000" stroke-width="0.15" xml:space="preserve">17 Nov 21:00</text>
<rect x="516" y="673" width="1" height="3" fill="#000"/>
<text x="514.5" y="685" fill="#000" font-size="10" textLength="57" lengthAdjust="spacingAndGlyphs" stroke="#000" stroke-width="0.15" xml:space="preserve">19 Nov 05:00</text>
<rect x="580" y="673" width="1" height="3" fill="#000"/>
<text x="578.5" y="685" fill="#000" font-size="10" textLength="57" lengthAdjust="spacingAndGlyphs" stroke="#000" stroke-width="0.15" xml:space="preserve">20 Nov 13:00</text>
<rect x="644" y="673" width="1" height="3" fill="#000"/>
<text x="642.5" y="685" fill="#000" font-size="10" textLength="57" lengthAdjust="spacingAndGlyphs" stroke="#000" stroke-width="0.15" xml:space="preserve">23 Nov 16:00</text>
<rect x="708" y="673" width="1" height="3" fill="#000"/>
<text x="706.5" y="685" fill="#000" font-size="10" textLength="57" lengthAdjust="spacingAndGlyphs" stroke="#000" stroke-width="0.15" xml:space="preserve">25 Nov 01:00</text>
<rect x="772" y="673" width="1" height="3" fill="#000"/>
<text x="770.5" y="685" fill="#000" font-size="10" textLength="57" lengthAdjust="spacingAndGlyphs" stroke="#000" stroke-width="0.15" xml:space="preserve">26 Nov 13:00</text>
<rect x="836" y="673" width="1" height="3" fill="#000"/>
<text x="834.5" y="685" fill="#000" font-size="10" textLength="57" lengthAdjust="spacingAndGlyphs" stroke="#000" stroke-width="0.15" xml:space="preserve">30 Nov 00:00</text>
<rect x="900" y="673" width="1" height="3" fill="#000"/>
<text x="898.5" y="685" fill="#000" font-size="10" textLength="51" lengthAdjust="spacingAndGlyphs" stroke="#000" stroke-width="0.15" xml:space="preserve">1 Dec 09:00</text>
<rect x="964" y="673" width="1" height="3" fill="#000"/>
<text x="962.5" y="685" fill="#000" font-size="10" textLength="51" lengthAdjust="spacingAndGlyphs" stroke="#000" stroke-width="0.15" xml:space="preserve">2 Dec 17:00</text>
<rect x="1028" y="673" width="1" height="3" fill="#000"/>
<text x="1026.5" y="685" fill="#000" font-size="10" textLength="51" lengthAdjust="spacingAndGlyphs" stroke="#000" stroke-width="0.15" xml:space="preserve">4 Dec 01:00</text>
<rect x="1092" y="673" width="1" height="3" fill="#000"/>
<text x="1090.5" y="685" fill="#000" font-size="10" textLength="51" lengthAdjust="spacingAndGlyphs" stroke="#000" stroke-width="0.15" xml:space="preserve">7 Dec 04:00</text>
<rect x="1156" y="673" width="1" height="3" fill="#000"/>
<text x="1154.5" y="685" fill="#000" font-size="10" textLength="51" lengthAdjust="spacingAndGlyphs" stroke="#000" stroke-width="0.15" xml:space="preserve">8 Dec 13:00</text>
</svg>
</body></html>
